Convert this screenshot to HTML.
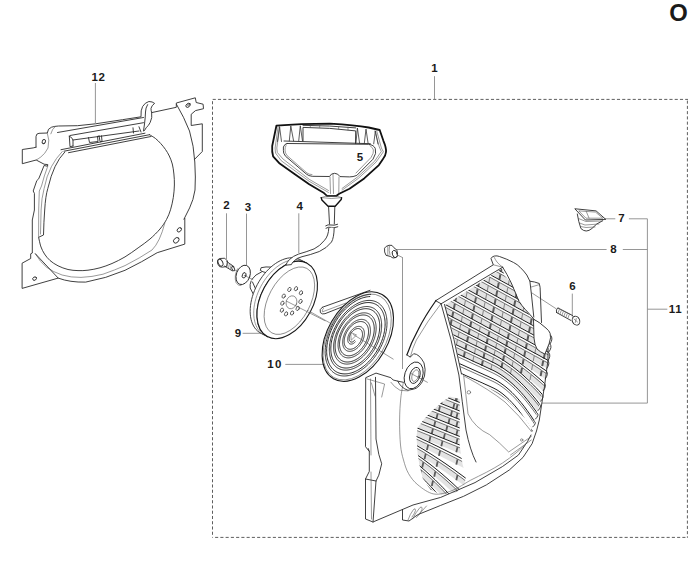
<!DOCTYPE html>
<html><head><meta charset="utf-8">
<style>
html,body{margin:0;padding:0;background:#fff;width:700px;height:577px;overflow:hidden}
svg{display:block}
.lb{font-family:"Liberation Sans",sans-serif;font-weight:bold;font-size:11.5px;fill:#1b1b1b;text-anchor:middle}
.ld{stroke:#8a8a8a;stroke-width:0.9;fill:none}
.p{stroke:#2a2a2a;stroke-width:0.9;fill:none;stroke-linejoin:round;stroke-linecap:round}
.pw{stroke:#2a2a2a;stroke-width:0.9;fill:#fff;stroke-linejoin:round;stroke-linecap:round}
.t{stroke:#555;stroke-width:0.6;fill:none;stroke-linejoin:round;stroke-linecap:round}
</style></head>
<body>
<svg width="700" height="577" viewBox="0 0 700 577">
<!-- title letter -->
<text x="678.6" y="20.6" style="font-family:'Liberation Sans',sans-serif;font-weight:bold;font-size:23.8px;fill:#1a1a1a;text-anchor:middle">O</text>

<!-- dashed frame -->
<g fill="none" stroke="#5e5e5e" stroke-width="1" stroke-dasharray="3.1 2.15">
<path d="M212.7,99.4 H688"/>
<path d="M212.5,101.2 V537.6"/>
<path d="M687.4,100.6 V537.6"/>
<path d="M215.1,537.4 H688"/>
</g>

<!-- leader lines -->
<g class="ld">
<path d="M434.5 76.2V99.4"/>
<path d="M95.4 83V123"/>
<path d="M226.5 213.3V259"/>
<path d="M246.5 213.6V265.4"/>
<path d="M298.8 213.3V253"/>
<path d="M604.4 218.8H615.3M628.9 218.8H647.4V403.1H541.9"/>
<path d="M396.5 249.5H606.6M622.8 249.5H647.4"/>
<path d="M647.4 309.2H667.3"/>
<path d="M572.3 293.6V316.7"/>
<path d="M242.6 333.3H261"/>
<path d="M285.3 364.4H322.9"/>
<path d="M402.5 257.5V369"/>
</g>

<!-- labels -->
<g class="lb">
<text x="98.4" y="81" letter-spacing="0.5">12</text>
<text x="434.4" y="72">1</text>
<text x="360" y="161">5</text>
<text x="226.5" y="208.9">2</text>
<text x="247.9" y="210.7">3</text>
<text x="299.8" y="210.1">4</text>
<text x="621.4" y="222.1">7</text>
<text x="613.5" y="253.1">8</text>
<text x="572.4" y="290.3">6</text>
<text x="675.6" y="313.1" letter-spacing="0.8">11</text>
<text x="237.9" y="337.3">9</text>
<text x="275" y="367.5" letter-spacing="1.4">10</text>
</g>

<!-- PARTS -->

<!-- PART 12 -->
<g class="p">
<path d="M36,147.2 L36,136.5 Q36.3,133.3 39,133.3 L47.3,133 Q47.6,128.5 51.5,127.2 Q54.5,126.2 58.5,126 L77.5,125.7 L95.5,123.8 L122.5,119.7 L141,116.8 Q140.6,110 142.6,106.5 Q145,102.5 148.9,101.5 Q152.5,101.5 154.6,103.4 Q151.6,105.5 151,108.4 Q151,111 151.7,112.6 L176.3,107.3 L176.3,103 L195.3,97.8 L196.2,102.5 L203.1,104.2 L203.5,108.7 L195.5,110.6 L191.2,114.3 L191.2,125.5 L202.3,123.8 L202.3,151.5 L194.6,159.3"/>
<path d="M176.6,104.5 Q184,117 189.5,131 Q194,146 194.8,162 Q195.8,178 195,190 Q193.5,200 189.6,207.9 L183.9,219.3 L184.8,218.4 L184.8,244.1 L157.2,252.7 Q142,262 125,270.3 Q106,278.5 85.7,282.1 Q70,282.5 58.2,278.1 L22.1,288.4 L22.1,263.2 L30.7,258.5 L30.7,253.8 L32.3,253 L32.3,220 L34.4,210 L34.4,193.4 L33.2,191 L36.8,180.6 L38.7,178.8 L44.1,165.5 L47.4,166.2 L47.8,164.6 L44.1,164.2 L36.2,160 L22.3,163.7 L22.3,149.5 L33.2,147.9 L36,147.2"/>
<!-- inner opening -->
<path d="M149.50,134.70 C150.50,135.33 153.63,137.03 155.50,138.50 C157.37,139.97 159.03,141.67 160.70,143.50 C162.37,145.33 164.07,147.42 165.50,149.50 C166.93,151.58 168.17,153.58 169.30,156.00 C170.43,158.42 171.53,161.00 172.30,164.00 C173.07,167.00 173.55,170.50 173.90,174.00 C174.25,177.50 174.50,181.08 174.40,185.00 C174.30,188.92 173.95,193.37 173.30,197.50 C172.65,201.63 171.63,206.13 170.50,209.80 C169.37,213.47 168.25,216.30 166.50,219.50 C164.75,222.70 162.75,225.75 160.00,229.00 C157.25,232.25 153.65,235.85 150.00,239.00 C146.35,242.15 142.27,244.92 138.10,247.90 C133.93,250.88 129.35,254.30 125.00,256.90 C120.65,259.50 116.17,261.68 112.00,263.50 C107.83,265.32 104.00,266.68 100.00,267.80 C96.00,268.92 91.67,269.73 88.00,270.20 C84.33,270.67 81.33,270.72 78.00,270.60 C74.67,270.48 71.33,270.30 68.00,269.50 C64.67,268.70 61.00,267.30 58.00,265.80 C55.00,264.30 52.25,262.47 50.00,260.50 C47.75,258.53 46.00,256.25 44.50,254.00 C43.00,251.75 41.88,249.33 41.00,247.00 C40.12,244.67 39.50,241.17 39.20,240.00 L38.6,237.3 L43.5,235 Q43.8,222 44.7,210 Q45.5,196 47.8,188.5 Q51,175 55,166.7 Q59,158 64.7,152.1"/>
<path d="M35.4,253.8 Q40,262 46.4,267.1 Q53,272 62.1,275 Q71,277.6 81,277.4 Q92,277 103,274.2 Q115,270 125,265.6 Q140,258 152,250 Q160,242 164.8,223.1" class="t"/>
<path d="M35.4,253.8 L58.2,278.1"/>
<path d="M47.8,166.1 Q44,176 41.5,186 L39.3,191 L38.7,210 L38.6,237.3" class="t"/>
<path d="M62.3,151.5 Q56,158 51.4,166.7 Q46.5,176 44.1,188.5 Q41.5,198 41.1,210 L40.5,234" class="t"/>
<!-- rail -->
<path d="M57.5,132.5 L143.5,117.5"/>
<path d="M70,135.5 L143.5,122.7"/>
<path d="M69.3,136.2 L70,146.7 L73,146 M73,140 L139,131 M69.3,136.2 Q72,137 73,140 L73,146" />
<path d="M61,149.7 L145,133.2 M64,151.2 L149.5,134.7 M68.5,152.7 L151,136.5"/>
<path d="M88.5,137.6 L89.5,142.5 L98,141.5 L97.5,136.3 M99,135.5 L100,141.3 Q101,143 102,141 L101.5,135.8"/>
<path d="M133,127.8 L133.5,133 M139,126.8 L141,132"/>
<path d="M147.6,104.6 Q145.5,108 145.5,112 Q145.3,118 144.5,124 L143.5,131 M151.7,112.6 Q152.5,118 150.2,122.4 Q148.5,126 146.4,127.4 L144.5,130.5"/>
<path d="M55.3,126.5 Q52,129 50.8,133.8" class="t"/>
<path d="M47.3,133 Q50,140 48,148 Q45,154 40.8,157 Q38,159 36.2,160" class="t"/>
<!-- holes -->
<ellipse cx="43.8" cy="141.6" rx="1.6" ry="2.1" transform="rotate(25 43.8 141.6)"/>
<ellipse cx="188.1" cy="105.3" rx="2.5" ry="1.7" transform="rotate(-40 188.1 105.3)"/><ellipse cx="188.4" cy="105.1" rx="1.2" ry="0.8" transform="rotate(-40 188.4 105.1)" class="t"/>
<ellipse cx="34.6" cy="278.6" rx="2" ry="1.6" transform="rotate(-35 34.6 278.6)"/>
<ellipse cx="176.3" cy="240.3" rx="3.2" ry="2.3" transform="rotate(-45 176.3 240.3)"/>
<ellipse cx="179.3" cy="229.8" rx="2.5" ry="1.8" transform="rotate(-45 179.3 229.8)"/>
</g>


<!-- PART 5 handle -->
<g class="p">
<path d="M276.4,125.7 Q300,123.6 330,123.6 Q355,125 368.6,127.5 L379.7,130 L383.4,140.8 Q386.5,148 386,152 Q385.6,156 383,159 L378.9,165.1 L364.2,178.4 L349.5,188.7 L339.2,193.8 L336.5,195.8 L327,195.8 L324,193.1 L309.2,184.3 L294.5,174 L279.7,163.6 L273.1,156.3 Q271.8,152 272.2,146 Z" style="stroke-width:1.8;stroke:#111"/>
<path d="M278.1,126.3 L275.1,148 L275.5,153 L281.2,160.7 L309.2,181.3 L328.4,192.4 M376.7,130.9 L381.4,148 L383.4,151.8 L376,162.1 L358.3,178.4 L342.1,190.1" class="t"/>
<path d="M279.7,127.5 L276.8,148 L277.3,152.5 L283,159 L309.5,179.5 L328.5,190.5 M374.8,131 L379.3,147 L381.3,151.5 L374.5,161.3 L357.5,177 L342,188.5" class="t"/>
<path d="M287.1,143.5 L368.6,144.3 Q374,145 375.3,148.6 Q377,153 373,159.2 L356.8,175.4 Q353,177 349.5,176.9 L340,176.6 Q338,173.3 334.5,173.3 Q331,173.3 329.5,176.5 L312.2,176.3 Q308.5,176 306.3,174 L285.6,156.3 Q283,153 283.4,150.4 L283.4,147 Q284.5,143.7 287.1,143.5 Z"/>
<path d="M286,145.5 Q285,147 285,150 Q285,153 287,155.5 L307,173 Q309,174.5 312,174.6 M370,145.8 Q373,147.5 373.4,150 Q374,153 371,157.5 L356,173" class="t"/>
<path d="M303,141 L303,127.4 Q330,127.6 355.7,130.9 L355.5,143.5 M303,125.3 Q330,125.5 355.7,127.9 M284,141 L370.3,143.7"/>
<path d="M310.3,125.5 L310.3,127.5 M319.7,125.5 L319.7,127.5 M338.6,126.5 L338.6,129 M348,127.2 L348,130" class="t"/>
<path d="M277.5,141.5 L279.5,126.5 L281.5,141.5 M289.3,141 L290.8,126 L293.6,141 M298.7,141 L300.3,125.8 L302.5,141 M355.9,143.3 L357.4,128 L359.6,143.3 M364.3,143.5 L366,129.1 L368.1,143.5 M373.7,143.8 L375.4,130.9 L378,144" style="stroke:#333;stroke-width:0.8"/>
<path d="M330,177 L330.5,193.5 M339,177 L338.8,193 M333,174 L333.5,193.5" class="t"/>
</g>
<!-- cone and rope -->
<g class="p">
<path d="M321.2,197.6 Q331.4,193.5 341.6,197.6 Q331.4,199.5 321.2,197.6 Z" class="t"/>
<path d="M321.2,197.6 L321.9,200 L328.1,206.2 L335.2,206.2 L341.2,199.5 L341.6,197.6" style="stroke-width:1.4;stroke:#111"/>
<path d="M328.6,207.1 L329.5,224 M334.8,207.1 L334.3,224"/>
<path d="M325.7,225.8 Q328,224.2 331,225 Q334,225.8 337.6,224.3 M326,228.2 Q328.5,226.6 331.5,227.4 Q334.5,228.2 337.8,226.8"/>

</g>
<!-- bolt 2 -->
<g class="p">
<path d="M219.5,258.6 Q216.5,259.5 217.8,264 Q219,267.6 222.3,267.2 L226.6,266.5 L227.5,261 L225,258.5 Z"/>
<ellipse cx="220.5" cy="262.7" rx="2.2" ry="3.6" transform="rotate(-25 220.5 262.7)"/>
<path d="M226.7,261.5 L234,266.7 M224.5,266.1 L232.3,270.8"/>
<ellipse cx="233.2" cy="268.7" rx="1.2" ry="2.3" transform="rotate(-25 233.2 268.7)"/>
<path d="M227.8,262.5 L227,266.5 M229.5,263.6 L228.6,267.6 M231.2,264.8 L230.3,268.8" class="t"/>
</g>
<!-- washer 3 -->
<g class="p">
<ellipse cx="243.2" cy="274.9" rx="6.8" ry="10" transform="rotate(20 243.2 274.9)" fill="#fff"/>
<path d="M237.5,268.8 Q233.8,276 236,282.5 Q238,286.2 241,285.6" class="t"/>
<ellipse cx="244.1" cy="275.3" rx="1.8" ry="2.8" transform="rotate(20 244.1 275.3)"/>
<path d="M234.3,269.6 L236.6,270.9 M244.1,275.3 L252.8,279.5" class="t"/>
</g>




<!-- pulley 9 -->
<g class="p">
<path d="M261.5,267.6 Q266,266.5 271,267.1 L272,270 L266.7,272.8 Q262.5,272 260.6,270.6 Z" fill="#fff"/>
<path d="M251.9,279.3 Q255,274.5 261.5,271.9 M251.1,281 Q249.6,284.5 250.2,288 L253.7,294.9 L256.3,290.5 L252.5,282"/>
<path d="M260.93,333.30 L259.18,332.26 L257.55,330.99 L256.07,329.52 L254.73,327.84 L253.56,325.96 L252.55,323.91 L251.71,321.68 L251.05,319.30 L250.57,316.78 L250.27,314.13 L250.16,311.38 L250.24,308.53 L250.50,305.61 L250.95,302.63 L251.58,299.61 L252.39,296.57 L253.37,293.54 L254.52,290.52 L255.82,287.53 L257.28,284.60 L258.88,281.75 L260.62,278.99 L262.47,276.33 L264.44,273.80 L266.51,271.40 L268.66,269.16 L270.88,267.09 L273.17,265.20 L275.50,263.51 L277.85,262.01 L280.23,260.73 L282.60,259.67 L284.97,258.83 L287.30,258.23 L289.59,257.86 L291.83,257.73 L293.99,257.84 L296.08,258.19 L298.06,258.77 L299.94,259.59 L306.70,263.04 L304.83,262.23 L302.84,261.65 L300.76,261.30 L298.59,261.19 L296.36,261.32 L294.07,261.69 L291.73,262.29 L289.37,263.13 L286.99,264.19 L284.62,265.47 L282.26,266.96 L279.93,268.66 L277.65,270.55 L275.42,272.62 L273.27,274.86 L271.21,277.25 L269.24,279.79 L267.38,282.44 L265.65,285.21 L264.05,288.06 L262.59,290.99 L261.28,293.97 L260.13,296.99 L259.15,300.03 L258.35,303.07 L257.72,306.09 L257.27,309.06 L257.00,311.99 L256.93,314.83 L257.04,317.59 L257.33,320.24 L257.81,322.76 L258.47,325.14 L259.31,327.36 L260.32,329.42 L261.50,331.29 L262.83,332.97 L264.32,334.45 L265.94,335.71 L267.70,336.76 Z" fill="#fff"/>
<path d="M264.49,335.12 L262.74,334.08 L261.11,332.81 L259.63,331.34 L258.29,329.66 L257.12,327.78 L256.11,325.73 L255.27,323.50 L254.61,321.12 L254.13,318.60 L253.83,315.95 L253.72,313.20 L253.80,310.35 L254.06,307.43 L254.51,304.45 L255.14,301.43 L255.95,298.39 L256.93,295.36 L258.08,292.34 L259.38,289.35 L260.84,286.42 L262.44,283.57 L264.18,280.81 L266.03,278.15 L268.00,275.62 L270.07,273.22 L272.22,270.98 L274.44,268.91 L276.73,267.02 L279.06,265.33 L281.41,263.83 L283.79,262.55 L286.16,261.49 L288.53,260.65 L290.86,260.05 L293.15,259.68 L295.39,259.55 L297.55,259.66 L299.64,260.01 L301.62,260.59 L303.50,261.41" class="t"/>
<ellipse cx="287.2" cy="299.9" rx="26.0" ry="41.7" transform="rotate(28.4 287.2 299.9)" fill="#fff" style="stroke-width:1.1;stroke:#1a1a1a"/>
<ellipse cx="289.4" cy="300.7" rx="20.8" ry="36.7" transform="rotate(28.4 289.4 300.7)" class="t"/>
<ellipse cx="291.5" cy="302.3" rx="5.3" ry="6.6" transform="rotate(20 291.5 302.3)" class="t"/>
<path d="M286.2,301 L325,320.8" class="t"/>
</g>
<g class="t" style="stroke:#333;stroke-width:0.7">
<ellipse cx="289.4" cy="289.5" rx="1.5" ry="2.2" transform="rotate(25 289.4 289.5)"/><ellipse cx="296" cy="288.7" rx="1.5" ry="2.2" transform="rotate(25 296 288.7)"/><ellipse cx="301" cy="292.8" rx="1.5" ry="2.2" transform="rotate(25 301 292.8)"/><ellipse cx="300.5" cy="301.4" rx="1.5" ry="2.2" transform="rotate(25 300.5 301.4)"/><ellipse cx="297.7" cy="308.4" rx="1.5" ry="2.2" transform="rotate(25 297.7 308.4)"/><ellipse cx="292.1" cy="313" rx="1.5" ry="2.2" transform="rotate(25 292.1 313)"/><ellipse cx="286.1" cy="313.9" rx="1.5" ry="2.2" transform="rotate(25 286.1 313.9)"/><ellipse cx="281.9" cy="310.2" rx="1.5" ry="2.2" transform="rotate(25 281.9 310.2)"/><ellipse cx="282.4" cy="303.2" rx="1.5" ry="2.2" transform="rotate(25 282.4 303.2)"/><ellipse cx="283.7" cy="296.1" rx="1.5" ry="2.2" transform="rotate(25 283.7 296.1)"/>
</g>

<!-- rope over pulley -->
<path class="p" style="fill:#fff" d="M328.8,228 Q328.5,236 324.5,240.3 Q320,246 314.1,248.9 Q306,252 298.5,254.1 Q293,256 289.5,259.5 Q287,262 285.8,265.2 L291.4,264.6 Q292,262.5 294.5,260.5 Q297,258 302,256.7 Q310,255 319.3,251.5 Q327,248 331.5,242 Q334,238 334.2,227.5"/>
<!-- PART 10 spring -->
<g class="p">
<path d="M322.3,307.3 Q318.8,309.5 320.4,312.6 Q322,314.6 325,313.7 L350,303.8 M322.3,307.3 L370,290.3" fill="#fff"/>
<path d="M323.5,308.4 Q321.5,310 322.5,311.8 L346,303" class="t"/>
<ellipse cx="357.8" cy="336.6" rx="30.2" ry="48.6" transform="rotate(30 357.8 336.6)" fill="#fff" style="stroke-width:1.1;stroke:#1a1a1a"/>
<ellipse cx="357.2" cy="337.0" rx="28.7" ry="46.8" transform="rotate(30 357.2 337.0)" class="t"/>
<path d="M354.61,340.21 L354.52,340.36 L354.42,340.49 L354.31,340.63 L354.20,340.75 L354.09,340.88 L353.97,341.00 L353.84,341.11 L353.72,341.22 L353.59,341.32 L353.45,341.42 L353.32,341.51 L353.18,341.60 L353.04,341.68 L352.89,341.75 L352.75,341.82 L352.61,341.88 L352.46,341.93 L352.31,341.97 L352.17,342.01 L352.02,342.04 L351.87,342.06 L351.73,342.07 L351.58,342.07 L351.44,342.06 L351.30,342.05 L351.16,342.02 L351.02,341.99 L350.89,341.95 L350.75,341.90 L350.62,341.84 L350.50,341.77 L350.38,341.69 L350.26,341.60 L350.15,341.50 L350.04,341.40 L349.94,341.28 L349.84,341.16 L349.75,341.02 L349.66,340.88 L349.58,340.73 L349.51,340.57 L349.44,340.40 L349.38,340.23 L349.33,340.04 L349.28,339.85 L349.24,339.65 L349.21,339.44 L349.19,339.23 L349.17,339.01 L349.16,338.78 L349.17,338.54 L349.17,338.31 L349.19,338.06 L349.22,337.81 L349.25,337.56 L349.30,337.30 L349.35,337.03 L349.41,336.77 L349.48,336.50 L349.56,336.23 L349.65,335.95 L349.74,335.68 L349.85,335.40 L349.96,335.12 L350.08,334.84 L350.21,334.56 L350.35,334.29 L350.50,334.01 L350.65,333.74 L350.82,333.46 L350.99,333.19 L351.16,332.92 L351.35,332.66 L351.54,332.40 L351.74,332.15 L351.95,331.90 L352.16,331.65 L352.38,331.41 L352.60,331.18 L352.83,330.95 L353.06,330.74 L353.30,330.52 L353.55,330.32 L353.79,330.13 L354.05,329.95 L354.30,329.77 L354.56,329.61 L354.82,329.45 L355.08,329.31 L355.35,329.17 L355.61,329.05 L355.88,328.94 L356.14,328.85 L356.41,328.76 L356.68,328.69 L356.94,328.63 L357.21,328.58 L357.47,328.55 L357.73,328.53 L357.99,328.52 L358.24,328.53 L358.50,328.55 L358.74,328.58 L358.99,328.63 L359.23,328.69 L359.46,328.77 L359.69,328.86 L359.91,328.96 L360.12,329.08 L360.33,329.22 L360.53,329.36 L360.72,329.53 L360.91,329.70 L361.09,329.89 L361.25,330.09 L361.41,330.30 L361.56,330.53 L361.70,330.77 L361.83,331.02 L361.95,331.29 L362.05,331.57 L362.15,331.85 L362.24,332.15 L362.31,332.46 L362.37,332.78 L362.42,333.11 L362.46,333.45 L362.49,333.80 L362.50,334.15 L362.50,334.52 L362.49,334.89 L362.47,335.27 L362.43,335.65 L362.38,336.04 L362.32,336.44 L362.25,336.84 L362.16,337.24 L362.06,337.65 L361.94,338.06 L361.82,338.47 L361.68,338.88 L361.53,339.29 L361.37,339.71 L361.19,340.12 L361.01,340.53 L360.81,340.94 L360.60,341.35 L360.38,341.75 L360.15,342.15 L359.91,342.55 L359.65,342.94 L359.39,343.32 L359.12,343.70 L358.84,344.07 L358.55,344.43 L358.25,344.78 L357.94,345.13 L357.63,345.46 L357.31,345.79 L356.98,346.10 L356.65,346.40 L356.31,346.69 L355.97,346.96 L355.62,347.23 L355.26,347.48 L354.91,347.71 L354.55,347.93 L354.18,348.13 L353.82,348.32 L353.46,348.50 L353.09,348.65 L352.72,348.79 L352.36,348.91 L351.99,349.02 L351.63,349.10 L351.27,349.17 L350.91,349.22 L350.55,349.25 L350.20,349.27 L349.86,349.26 L349.52,349.23 L349.18,349.19 L348.85,349.13 L348.53,349.05 L348.22,348.94 L347.91,348.82 L347.61,348.68 L347.32,348.52 L347.04,348.35 L346.77,348.15 L346.51,347.93 L346.27,347.70 L346.03,347.45 L345.81,347.18 L345.60,346.89 L345.40,346.59 L345.21,346.27 L345.04,345.93 L344.88,345.58 L344.74,345.21 L344.61,344.83 L344.50,344.43 L344.40,344.02 L344.32,343.59 L344.25,343.16 L344.20,342.70 L344.17,342.24 L344.15,341.77 L344.15,341.29 L344.17,340.79 L344.20,340.29 L344.25,339.78 L344.31,339.27 L344.40,338.74 L344.49,338.21 L344.61,337.68 L344.74,337.14 L344.89,336.60 L345.06,336.05 L345.24,335.51 L345.44,334.96 L345.65,334.41 L345.88,333.87 L346.13,333.32 L346.39,332.78 L346.66,332.24 L346.95,331.71 L347.25,331.18 L347.57,330.66 L347.90,330.14 L348.24,329.63 L348.60,329.14 L348.97,328.65 L349.34,328.17 L349.73,327.70 L350.13,327.24 L350.54,326.79 L350.96,326.36 L351.39,325.95 L351.82,325.55 L352.27,325.16 L352.72,324.79 L353.17,324.44 L353.63,324.10 L354.10,323.78 L354.57,323.48 L355.04,323.21 L355.52,322.95 L355.99,322.71 L356.47,322.49 L356.95,322.29 L357.43,322.12 L357.90,321.97 L358.38,321.84 L358.85,321.73 L359.32,321.65 L359.79,321.59 L360.25,321.55 L360.70,321.54 L361.15,321.55 L361.59,321.58 L362.02,321.64 L362.45,321.72 L362.86,321.83 L363.27,321.96 L363.66,322.12 L364.05,322.30 L364.42,322.50 L364.78,322.73 L365.13,322.98 L365.46,323.25 L365.78,323.55 L366.08,323.87 L366.37,324.21 L366.64,324.57 L366.90,324.95 L367.14,325.35 L367.36,325.78 L367.56,326.22 L367.75,326.68 L367.91,327.16 L368.06,327.66 L368.19,328.18 L368.30,328.71 L368.39,329.26 L368.46,329.82 L368.51,330.39 L368.54,330.98 L368.54,331.58 L368.53,332.20 L368.50,332.82 L368.44,333.45 L368.37,334.09 L368.27,334.74 L368.16,335.40 L368.02,336.06 L367.86,336.72 L367.69,337.39 L367.49,338.06 L367.27,338.74 L367.04,339.41 L366.78,340.08 L366.50,340.76 L366.21,341.43 L365.90,342.09 L365.57,342.75 L365.22,343.41 L364.85,344.06 L364.47,344.70 L364.07,345.33 L363.66,345.95 L363.23,346.56 L362.79,347.16 L362.34,347.75 L361.87,348.32 L361.39,348.88 L360.89,349.42 L360.39,349.94 L359.88,350.45 L359.35,350.94 L358.82,351.41 L358.28,351.86 L357.73,352.29 L357.18,352.69 L356.62,353.08 L356.06,353.44 L355.49,353.78 L354.93,354.09 L354.35,354.38 L353.78,354.64 L353.21,354.88 L352.64,355.09 L352.07,355.27 L351.50,355.43 L350.94,355.56 L350.38,355.66 L349.82,355.73 L349.28,355.78 L348.74,355.79 L348.20,355.78 L347.68,355.73 L347.16,355.66 L346.66,355.56 L346.17,355.43 L345.68,355.27 L345.22,355.08 L344.76,354.87 L344.32,354.62 L343.90,354.35 L343.49,354.05 L343.10,353.72 L342.72,353.36 L342.37,352.98 L342.03,352.57 L341.71,352.14 L341.41,351.68 L341.13,351.20 L340.87,350.69 L340.64,350.16 L340.42,349.60 L340.23,349.03 L340.06,348.43 L339.91,347.82 L339.79,347.18 L339.69,346.53 L339.61,345.86 L339.56,345.17 L339.53,344.47 L339.53,343.75 L339.55,343.02 L339.60,342.28 L339.67,341.53 L339.76,340.76 L339.88,339.99 L340.03,339.21 L340.20,338.43 L340.39,337.63 L340.61,336.84 L340.85,336.04 L341.11,335.24 L341.40,334.44 L341.71,333.64 L342.04,332.84 L342.40,332.05 L342.77,331.26 L343.17,330.47 L343.59,329.70 L344.03,328.93 L344.48,328.17 L344.96,327.42 L345.45,326.68 L345.96,325.96 L346.49,325.25 L347.04,324.55 L347.60,323.88 L348.17,323.22 L348.76,322.57 L349.36,321.95 L349.97,321.35 L350.59,320.77 L351.22,320.21 L351.87,319.68 L352.52,319.17 L353.17,318.69 L353.84,318.23 L354.51,317.81 L355.18,317.40 L355.85,317.03 L356.53,316.69 L357.21,316.37 L357.89,316.09 L358.57,315.84 L359.24,315.62 L359.92,315.43 L360.58,315.28 L361.25,315.15 L361.91,315.06 L362.56,315.01 L363.20,314.98 L363.83,314.99 L364.45,315.04 L365.06,315.12 L365.66,315.23 L366.25,315.37 L366.82,315.55 L367.37,315.77 L367.91,316.01 L368.44,316.29 L368.94,316.60 L369.43,316.95 L369.90,317.33 L370.34,317.73 L370.77,318.17 L371.17,318.64 L371.56,319.14 L371.91,319.67 L372.25,320.23 L372.56,320.81 L372.85,321.42 L373.11,322.06 L373.34,322.72 L373.55,323.41 L373.74,324.12 L373.89,324.85 L374.02,325.60 L374.12,326.38 L374.19,327.17 L374.24,327.98 L374.25,328.80 L374.24,329.64 L374.20,330.50 L374.13,331.37 L374.03,332.25 L373.91,333.14 L373.75,334.03 L373.57,334.94 L373.36,335.85 L373.12,336.77 L372.86,337.69 L372.56,338.61 L372.25,339.53 L371.90,340.45 L371.53,341.37 L371.13,342.29 L370.71,343.20 L370.27,344.10 L369.80,345.00 L369.30,345.88 L368.79,346.76 L368.25,347.62 L367.70,348.47 L367.12,349.30 L366.52,350.12 L365.91,350.92 L365.28,351.70 L364.63,352.46 L363.96,353.20 L363.29,353.92 L362.59,354.61 L361.89,355.28 L361.17,355.92 L360.45,356.54 L359.71,357.12 L358.97,357.68 L358.22,358.21 L357.46,358.70 L356.70,359.17 L355.93,359.60 L355.16,360.00 L354.39,360.36 L353.63,360.69 L352.86,360.99 L352.09,361.24 L351.33,361.46 L350.57,361.65 L349.82,361.80 L349.08,361.90 L348.34,361.98 L347.61,362.01 L346.90,362.00 L346.19,361.96 L345.50,361.87 L344.82,361.75 L344.16,361.59 L343.51,361.39 L342.88,361.16 L342.27,360.88 L341.68,360.57 L341.11,360.22 L340.56,359.83 L340.03,359.41 L339.52,358.95 L339.04,358.46 L338.58,357.93 L338.15,357.37 L337.74,356.77 L337.36,356.14 L337.01,355.48 L336.69,354.79 L336.39,354.07 L336.13,353.33 L335.89,352.55 L335.69,351.75 L335.51,350.92 L335.37,350.07 L335.26,349.20 L335.17,348.30 L335.13,347.39 L335.11,346.45 L335.12,345.50 L335.17,344.54 L335.25,343.55 L335.36,342.56 L335.50,341.55 L335.68,340.53 L335.89,339.51 L336.13,338.48 L336.40,337.44 L336.70,336.40 L337.03,335.35 L337.39,334.31 L337.78,333.27 L338.20,332.23 L338.65,331.19 L339.13,330.16 L339.64,329.13 L340.17,328.12 L340.73,327.11 L341.31,326.12 L341.92,325.14 L342.55,324.18 L343.20,323.24 L343.88,322.31 L344.58,321.40 L345.29,320.51 L346.03,319.65 L346.78,318.81 L347.55,317.99 L348.33,317.20 L349.13,316.44 L349.94,315.71 L350.77,315.01 L351.60,314.34 L352.44,313.70 L353.29,313.10 L354.15,312.53 L355.02,312.00 L355.88,311.51 L356.75,311.05 L357.63,310.63 L358.50,310.25 L359.37,309.91 L360.24,309.61 L361.10,309.35 L361.96,309.13 L362.82,308.96 L363.66,308.82 L364.50,308.73 L365.33,308.68 L366.14,308.68 L366.94,308.72 L367.73,308.80 L368.50,308.92 L369.26,309.09 L369.99,309.30 L370.71,309.56 L371.41,309.85 L372.09,310.19 L372.74,310.57 L373.37,311.00 L373.98,311.46 L374.56,311.96 L375.11,312.50 L375.64,313.09 L376.13,313.70 L376.60,314.36 L377.04,315.05 L377.45,315.78 L377.83,316.54 L378.17,317.34 L378.49,318.17 L378.77,319.02 L379.01,319.91 L379.22,320.83 L379.40,321.77 L379.54,322.74 L379.65,323.73 L379.72,324.75 L379.76,325.78 L379.76,326.84 L379.72,327.91 L379.65,329.01 L379.54,330.11 L379.40,331.23 L379.22,332.36 L379.00,333.50 L378.75,334.65 L378.47,335.80 L378.15,336.96 L377.79,338.12 L377.41,339.29 L376.98,340.45 L376.53,341.61 L376.05,342.76 L375.53,343.91 L374.98,345.05 L374.40,346.18 L373.80,347.30 L373.16,348.41 L372.50,349.50 L371.81,350.57 L371.10,351.63 L370.36,352.67 L369.60,353.68 L368.82,354.67 L368.01,355.64 L367.19,356.58 L366.35,357.49 L365.49,358.37 L364.61,359.22 L363.72,360.04 L362.82,360.83 L361.90,361.58 L360.98,362.29 L360.04,362.97 L359.10,363.61 L358.15,364.21 L357.19,364.77 L356.24,365.29 L355.28,365.76 L354.32,366.19 L353.36,366.58 L352.40,366.92 L351.45,367.22 L350.50,367.47 L349.56,367.68 L348.63,367.84 L347.71,367.95 L346.80,368.01 L345.90,368.03 L345.01,368.00 L344.15,367.92 L343.29,367.79 L342.46,367.62 L341.65,367.40 L340.85,367.13 L340.08,366.81 L339.34,366.44 L338.61,366.03 L337.92,365.58 L337.25,365.08 L336.61,364.53 L335.99,363.94 L335.41,363.31 L334.86,362.64 L334.34,361.92 L333.85,361.16 L333.40,360.37 L332.98,359.54 L332.60,358.67 L332.25,357.76 L331.94,356.82 L331.67,355.85 L331.43,354.84 L331.23,353.81 L331.07,352.75 L330.95,351.66 L330.87,350.54 L330.83,349.40 L330.82,348.24 L330.86,347.06 L330.94,345.86 L331.05,344.65 L331.21,343.42 L331.40,342.17 L331.63,340.92 L331.91,339.65 L332.22,338.38 L332.57,337.11 L332.95,335.83 L333.38,334.54 L333.84,333.26 L334.34,331.99 L334.87,330.71 L335.44,329.44 L336.04,328.18 L336.67,326.94 L337.34,325.70 L338.03,324.48 L338.76,323.27 L339.52,322.08 L340.30,320.91 L341.11,319.77 L341.95,318.64 L342.81,317.54 L343.70,316.47 L344.61,315.43 L345.53,314.42 L346.48,313.44 L347.44,312.49 L348.43,311.58 L349.42,310.71 L350.43,309.87 L351.45,309.07 L352.48,308.32 L353.52,307.60 L354.57,306.93 L355.63,306.30 L356.68,305.72 L357.74,305.19 L358.80,304.70 L359.86,304.26 L360.92,303.87 L361.98,303.52 L363.02,303.23 L364.06,302.99 L365.10,302.80 L366.12,302.66 L367.13,302.58 L368.12,302.54 L369.10,302.56 L370.07,302.63 L371.01,302.76 L371.94,302.93 L372.84,303.16 L373.73,303.44 L374.58,303.77 L375.42,304.15 L376.22,304.59 L377.00,305.07 L377.75,305.60 L378.47,306.19 L379.16,306.82 L379.81,307.49 L380.43,308.22 L381.02,308.99 L381.57,309.80 L382.08,310.66 L382.56,311.56 L382.99,312.50 L383.39,313.47 L383.75,314.49 L384.07,315.54 L384.35,316.63 L384.58,317.75 L384.78,318.90 L384.93,320.08 L385.04,321.29 L385.10,322.52 L385.13,323.78 L385.10,325.07 L385.04,326.37 L384.93,327.69 L384.79,329.03 L384.59,330.38 L384.36,331.75 L384.08,333.12 L383.76,334.51 L383.40,335.90 L382.99,337.29 L382.55,338.69 L382.07,340.08 L381.54,341.48 L380.98,342.87 L380.38,344.25 L379.74,345.63 L379.07,346.99 L378.36,348.34 L377.62,349.68 L376.84,351.00 L376.03,352.30 L375.19,353.58 L374.32,354.83 L373.43,356.06 L372.50,357.26 L371.55,358.44 L370.58,359.58 L369.58,360.69 L368.57,361.77 L367.53,362.81 L366.47,363.81 L365.40,364.77 L364.31,365.70 L363.21,366.57 L362.10,367.41 L360.98,368.20 L359.85,368.94 L358.71,369.64 L357.57,370.29 L356.42,370.88 L355.27,371.43 L354.13,371.92 L352.98,372.36 L351.84,372.75 L350.71,373.08 L349.58,373.36 L348.47,373.58 L347.36,373.74 L346.27,373.85 L345.19,373.90 L344.12,373.90 L343.08,373.84 L342.05,373.72 L341.05,373.54 L340.06,373.31 L339.11,373.02 L338.17,372.68 L337.27,372.28 L336.39,371.82 L335.54,371.31 L334.73,370.75 L333.95,370.13 L333.20,369.46 L332.48,368.74 L331.81,367.97 L331.17,367.14 L330.57,366.27 L330.00,365.36 L329.48,364.39 L329.00,363.39 L328.57,362.34 L328.17,361.25 L327.82,360.12 L327.51,358.95 L327.25,357.74 L327.04,356.51 L326.87,355.23 L326.74,353.93 L326.66,352.60 L326.63,351.24 L326.65,349.86 L326.71,348.45 L326.82,347.02 L326.97,345.58 L327.17,344.12 L327.42,342.64 L327.72,341.15 L328.06,339.65 L328.44,338.15 L328.87,336.64 L329.35,335.13 L329.87,333.61 L330.43,332.10 L331.03,330.59 L331.68,329.09 L332.36,327.60 L333.09,326.12 L333.85,324.65 L334.65,323.20 L335.48,321.77 L336.36,320.35 L337.26,318.96 L338.20,317.60 L339.17,316.26 L340.16,314.94 L341.19,313.66 L342.24,312.42 L343.32,311.20 L344.42,310.03 L345.54,308.89 L346.68,307.79 L347.84,306.74 L349.02,305.73 L350.21,304.76 L351.42,303.85 L352.64,302.98 L353.86,302.16 L355.10,301.39 L356.34,300.67 L357.58,300.01 L358.82,299.40 L360.07,298.85 L361.31,298.36 L362.55,297.92 L363.78,297.55 L365.01,297.23 L366.23,296.97 L367.43,296.77 L368.62,296.63 L369.80,296.56" style="stroke:#1a1a1a;stroke-width:0.95"/>
<path d="M355.20,341.88 L355.04,342.08 L354.87,342.26 L354.70,342.43 L354.53,342.60 L354.34,342.76 L354.16,342.91 L353.97,343.06 L353.77,343.19 L353.58,343.32 L353.38,343.44 L353.18,343.55 L352.98,343.65 L352.77,343.75 L352.57,343.83 L352.36,343.90 L352.15,343.96 L351.95,344.01 L351.74,344.05 L351.54,344.08 L351.33,344.10 L351.13,344.10 L350.93,344.10 L350.73,344.08 L350.54,344.05 L350.35,344.01 L350.16,343.95 L349.98,343.89 L349.80,343.81 L349.62,343.72 L349.46,343.62 L349.29,343.51 L349.14,343.38 L348.99,343.25 L348.84,343.10 L348.70,342.94 L348.58,342.76 L348.45,342.58 L348.34,342.38 L348.23,342.18 L348.14,341.96 L348.05,341.73 L347.97,341.50 L347.90,341.25 L347.84,340.99 L347.79,340.73 L347.75,340.45 L347.72,340.17 L347.70,339.88 L347.69,339.58 L347.69,339.27 L347.71,338.95 L347.73,338.63 L347.76,338.31 L347.81,337.98 L347.86,337.64 L347.93,337.30 L348.01,336.95 L348.10,336.60 L348.20,336.25 L348.31,335.90 L348.44,335.54 L348.57,335.18 L348.71,334.83 L348.87,334.47 L349.03,334.11 L349.21,333.76 L349.40,333.40 L349.59,333.05 L349.80,332.70 L350.01,332.36 L350.24,332.01 L350.47,331.68 L350.71,331.35 L350.96,331.02 L351.22,330.70 L351.49,330.39 L351.76,330.09 L352.04,329.80 L352.33,329.51 L352.62,329.23 L352.92,328.97 L353.22,328.71 L353.53,328.46 L353.85,328.23 L354.16,328.01 L354.48,327.80 L354.81,327.60 L355.13,327.42 L355.46,327.25 L355.79,327.09 L356.12,326.95 L356.45,326.83 L356.79,326.72 L357.12,326.62 L357.44,326.54 L357.77,326.48 L358.10,326.43 L358.42,326.40 L358.74,326.39 L359.05,326.39 L359.37,326.41 L359.67,326.44 L359.97,326.50 L360.27,326.57 L360.56,326.66 L360.84,326.76 L361.11,326.88 L361.38,327.02 L361.63,327.18 L361.88,327.35 L362.12,327.54 L362.35,327.75 L362.57,327.97 L362.78,328.21 L362.98,328.47 L363.16,328.74 L363.34,329.02 L363.50,329.32 L363.65,329.64 L363.78,329.97 L363.90,330.31 L364.01,330.67 L364.11,331.04 L364.19,331.42 L364.26,331.81 L364.31,332.21 L364.35,332.63 L364.37,333.05 L364.38,333.49 L364.38,333.93 L364.35,334.38 L364.32,334.84 L364.26,335.31 L364.20,335.78 L364.11,336.26 L364.02,336.74 L363.90,337.23 L363.78,337.72 L363.63,338.21 L363.47,338.70 L363.30,339.20 L363.11,339.69 L362.91,340.19 L362.70,340.68 L362.47,341.17 L362.23,341.66 L361.97,342.14 L361.70,342.62 L361.42,343.10 L361.13,343.56 L360.82,344.02 L360.50,344.48 L360.17,344.92 L359.84,345.36 L359.49,345.78 L359.13,346.20 L358.76,346.60 L358.39,346.99 L358.00,347.37 L357.61,347.73 L357.21,348.09 L356.81,348.42 L356.40,348.74 L355.99,349.05 L355.57,349.33 L355.14,349.60 L354.72,349.86 L354.29,350.09 L353.86,350.30 L353.43,350.50 L353.00,350.68 L352.57,350.83 L352.14,350.97 L351.71,351.09 L351.28,351.18 L350.86,351.25 L350.44,351.30 L350.02,351.33 L349.61,351.34 L349.21,351.33 L348.81,351.29 L348.42,351.23 L348.04,351.15 L347.67,351.05 L347.30,350.92 L346.94,350.77 L346.60,350.60 L346.27,350.41 L345.94,350.20 L345.63,349.96 L345.33,349.71 L345.05,349.43 L344.78,349.13 L344.52,348.81 L344.28,348.47 L344.05,348.11 L343.84,347.73 L343.65,347.34 L343.47,346.92 L343.31,346.49 L343.17,346.04 L343.04,345.58 L342.93,345.09 L342.84,344.60 L342.77,344.09 L342.71,343.56 L342.68,343.02 L342.66,342.47 L342.67,341.91 L342.69,341.34 L342.73,340.76 L342.79,340.17 L342.87,339.57 L342.97,338.97 L343.09,338.35 L343.23,337.74 L343.39,337.12 L343.56,336.49 L343.76,335.87 L343.97,335.24 L344.20,334.61 L344.45,333.98 L344.72,333.35 L345.00,332.73 L345.31,332.11 L345.63,331.49 L345.96,330.88 L346.31,330.27 L346.68,329.68 L347.06,329.09 L347.46,328.51 L347.87,327.94 L348.29,327.38 L348.72,326.83 L349.17,326.30 L349.63,325.78 L350.10,325.28 L350.58,324.79 L351.07,324.32 L351.57,323.86 L352.08,323.42 L352.59,323.01 L353.11,322.61 L353.64,322.23 L354.17,321.87 L354.70,321.54 L355.24,321.22 L355.78,320.93 L356.33,320.67 L356.87,320.43 L357.41,320.21 L357.96,320.01 L358.50,319.85 L359.04,319.70 L359.57,319.59 L360.10,319.50 L360.63,319.44 L361.15,319.40 L361.67,319.39 L362.17,319.41 L362.67,319.45 L363.16,319.53 L363.64,319.63 L364.11,319.75 L364.56,319.91 L365.01,320.09 L365.44,320.30 L365.86,320.53 L366.26,320.80 L366.65,321.08 L367.02,321.40 L367.38,321.74 L367.72,322.10 L368.04,322.49 L368.34,322.91 L368.63,323.34 L368.89,323.80 L369.14,324.29 L369.36,324.79 L369.57,325.32 L369.75,325.86 L369.92,326.43 L370.06,327.01 L370.17,327.61 L370.27,328.23 L370.34,328.87 L370.39,329.52 L370.42,330.18 L370.43,330.86 L370.41,331.55 L370.37,332.26 L370.30,332.97 L370.21,333.69 L370.10,334.42 L369.97,335.16 L369.81,335.90 L369.63,336.65 L369.43,337.40 L369.20,338.16 L368.95,338.91 L368.68,339.67 L368.39,340.42 L368.08,341.18 L367.74,341.93 L367.39,342.67 L367.02,343.41 L366.62,344.15 L366.21,344.87 L365.78,345.59 L365.33,346.29 L364.87,346.99 L364.38,347.67 L363.89,348.33 L363.37,348.99 L362.85,349.63 L362.31,350.25 L361.75,350.85 L361.19,351.43 L360.61,352.00 L360.03,352.54 L359.43,353.06 L358.83,353.56 L358.22,354.03 L357.60,354.48 L356.97,354.91 L356.35,355.31 L355.71,355.68 L355.08,356.03 L354.44,356.34 L353.80,356.63 L353.17,356.89 L352.53,357.12 L351.89,357.32 L351.26,357.49 L350.64,357.63 L350.01,357.74 L349.40,357.81 L348.79,357.86 L348.19,357.87 L347.60,357.85 L347.01,357.80 L346.44,357.71 L345.88,357.60 L345.34,357.45 L344.81,357.27 L344.29,357.05 L343.79,356.81 L343.30,356.53 L342.83,356.23 L342.38,355.89 L341.95,355.52 L341.53,355.12 L341.14,354.69 L340.77,354.24 L340.42,353.75 L340.09,353.24 L339.78,352.70 L339.50,352.13 L339.24,351.54 L339.00,350.93 L338.79,350.29 L338.61,349.63 L338.45,348.94 L338.31,348.24 L338.21,347.51 L338.13,346.77 L338.07,346.01 L338.04,345.23 L338.04,344.43 L338.07,343.63 L338.12,342.80 L338.20,341.97 L338.31,341.13 L338.45,340.27 L338.61,339.41 L338.80,338.54 L339.01,337.67 L339.26,336.79 L339.52,335.91 L339.82,335.03 L340.14,334.14 L340.48,333.26 L340.85,332.38 L341.25,331.51 L341.66,330.64 L342.10,329.77 L342.57,328.92 L343.05,328.07 L343.56,327.24 L344.08,326.42 L344.63,325.61 L345.19,324.81 L345.78,324.03 L346.38,323.27 L346.99,322.53 L347.63,321.80 L348.27,321.10 L348.93,320.42 L349.61,319.76 L350.29,319.12 L350.99,318.52 L351.69,317.93 L352.41,317.38 L353.13,316.85 L353.86,316.35 L354.59,315.88 L355.33,315.45 L356.07,315.04 L356.82,314.67 L357.56,314.33 L358.31,314.02 L359.05,313.75 L359.79,313.51 L360.53,313.31 L361.26,313.14 L361.99,313.01 L362.71,312.91 L363.42,312.86 L364.12,312.83 L364.81,312.85 L365.49,312.90 L366.16,312.99 L366.81,313.12 L367.45,313.28 L368.08,313.48 L368.68,313.72 L369.27,313.99 L369.84,314.30 L370.39,314.65 L370.92,315.03 L371.43,315.44 L371.92,315.89 L372.38,316.38 L372.82,316.89 L373.24,317.44 L373.63,318.02 L373.99,318.64 L374.33,319.28 L374.64,319.95 L374.92,320.65 L375.17,321.37 L375.40,322.13 L375.59,322.90 L375.76,323.70 L375.90,324.53 L376.00,325.37 L376.08,326.24 L376.12,327.12 L376.14,328.03 L376.12,328.95 L376.08,329.88 L376.00,330.83 L375.89,331.79 L375.75,332.76 L375.58,333.74 L375.37,334.73 L375.14,335.72 L374.88,336.72 L374.59,337.72 L374.27,338.73 L373.92,339.73 L373.54,340.74 L373.13,341.74 L372.69,342.73 L372.23,343.72 L371.75,344.71 L371.23,345.68 L370.69,346.64 L370.13,347.59 L369.55,348.53 L368.94,349.45 L368.31,350.36 L367.66,351.25 L366.99,352.11 L366.30,352.96 L365.59,353.79 L364.87,354.59 L364.13,355.37 L363.38,356.12 L362.61,356.84 L361.83,357.54 L361.04,358.20 L360.24,358.84 L359.43,359.44 L358.61,360.01 L357.79,360.55 L356.96,361.05 L356.13,361.51 L355.30,361.94 L354.46,362.33 L353.63,362.69 L352.79,363.00 L351.96,363.28 L351.14,363.52 L350.32,363.71 L349.50,363.87 L348.69,363.98 L347.90,364.06 L347.11,364.09 L346.33,364.08 L345.57,364.03 L344.82,363.94 L344.09,363.80 L343.37,363.62 L342.67,363.41 L341.99,363.15 L341.33,362.85 L340.69,362.50 L340.07,362.12 L339.48,361.70 L338.90,361.24 L338.36,360.74 L337.84,360.20 L337.35,359.63 L336.88,359.02 L336.44,358.37 L336.03,357.69 L335.65,356.97 L335.31,356.22 L334.99,355.44 L334.70,354.63 L334.45,353.79 L334.23,352.92 L334.04,352.03 L333.89,351.11 L333.77,350.16 L333.69,349.19 L333.63,348.20 L333.62,347.19 L333.64,346.16 L333.69,345.12 L333.78,344.05 L333.90,342.98 L334.06,341.89 L334.25,340.79 L334.47,339.69 L334.73,338.57 L335.03,337.45 L335.35,336.33 L335.72,335.20 L336.11,334.07 L336.53,332.95 L336.99,331.82 L337.48,330.71 L337.99,329.59 L338.54,328.49 L339.12,327.40 L339.72,326.32 L340.35,325.25 L341.01,324.19 L341.69,323.16 L342.39,322.14 L343.12,321.14 L343.87,320.16 L344.65,319.21 L345.44,318.28 L346.25,317.38 L347.08,316.50 L347.93,315.65 L348.79,314.83 L349.66,314.05 L350.55,313.30 L351.45,312.58 L352.35,311.90 L353.27,311.25 L354.19,310.64 L355.12,310.07 L356.06,309.54 L356.99,309.05 L357.93,308.60 L358.87,308.20 L359.81,307.83 L360.74,307.51 L361.67,307.24 L362.60,307.00 L363.51,306.82 L364.42,306.68 L365.32,306.58 L366.21,306.53 L367.08,306.53 L367.94,306.58 L368.79,306.67 L369.61,306.80 L370.42,306.99 L371.21,307.22 L371.98,307.49 L372.73,307.82 L373.46,308.18 L374.16,308.59 L374.83,309.05 L375.48,309.55 L376.10,310.09 L376.70,310.68 L377.26,311.30 L377.79,311.97 L378.29,312.68 L378.76,313.42 L379.20,314.21 L379.60,315.03 L379.97,315.88 L380.30,316.77 L380.60,317.69 L380.86,318.65 L381.08,319.63 L381.27,320.64 L381.42,321.68 L381.53,322.75 L381.61,323.84 L381.64,324.95 L381.64,326.09 L381.60,327.24 L381.52,328.41 L381.40,329.59 L381.25,330.79 L381.05,332.01 L380.82,333.23 L380.55,334.46 L380.24,335.70 L379.90,336.94 L379.52,338.18 L379.10,339.43 L378.64,340.67 L378.16,341.91 L377.64,343.15 L377.08,344.38 L376.49,345.60 L375.87,346.81 L375.22,348.01 L374.54,349.19 L373.83,350.36 L373.09,351.50 L372.33,352.63 L371.54,353.74 L370.72,354.82 L369.88,355.88 L369.02,356.92 L368.14,357.92 L367.23,358.89 L366.31,359.84 L365.38,360.74 L364.42,361.62 L363.46,362.46 L362.48,363.26 L361.49,364.02 L360.49,364.74 L359.48,365.42 L358.46,366.06 L357.44,366.66 L356.42,367.21 L355.39,367.71 L354.37,368.17 L353.34,368.58 L352.32,368.95 L351.30,369.26 L350.29,369.53 L349.29,369.75 L348.29,369.92 L347.31,370.03 L346.33,370.10 L345.38,370.11 L344.43,370.08 L343.51,369.99 L342.60,369.85 L341.71,369.66 L340.84,369.42 L340.00,369.13 L339.18,368.79 L338.38,368.40 L337.61,367.96 L336.87,367.47 L336.15,366.93 L335.47,366.35 L334.82,365.72 L334.20,365.04 L333.61,364.32 L333.06,363.56 L332.54,362.75 L332.06,361.90 L331.61,361.01 L331.21,360.08 L330.84,359.11 L330.51,358.11 L330.22,357.07 L329.97,356.00 L329.76,354.89 L329.59,353.76 L329.46,352.60 L329.38,351.41 L329.34,350.20 L329.33,348.96 L329.37,347.70 L329.46,346.42 L329.58,345.13 L329.75,343.81 L329.96,342.49 L330.21,341.15 L330.50,339.81 L330.83,338.45 L331.21,337.09 L331.62,335.73 L332.07,334.37 L332.57,333.00 L333.10,331.64 L333.66,330.29 L334.27,328.94 L334.91,327.60 L335.59,326.27 L336.30,324.96 L337.04,323.66 L337.81,322.37 L338.62,321.11 L339.46,319.87 L340.32,318.65 L341.21,317.46 L342.13,316.29 L343.07,315.15 L344.04,314.04 L345.02,312.97 L346.03,311.93 L347.06,310.93 L348.10,309.96 L349.16,309.03 L350.23,308.14 L351.32,307.30 L352.41,306.50 L353.52,305.74 L354.63,305.03 L355.75,304.36 L356.88,303.75 L358.00,303.18 L359.13,302.66 L360.26,302.20 L361.38,301.78 L362.50,301.42 L363.61,301.11 L364.71,300.86 L365.81,300.66 L366.89,300.52 L367.96,300.43 L369.02,300.39 L370.06,300.42 L371.08,300.49 L372.09,300.63 L373.07,300.82 L374.03,301.06 L374.96,301.36 L375.87,301.71 L376.75,302.12 L377.61,302.58 L378.43,303.10 L379.23,303.67 L379.99,304.29 L380.71,304.96 L381.41,305.68 L382.06,306.45 L382.68,307.27 L383.26,308.13 L383.81,309.04 L384.31,310.00 L384.77,310.99 L385.19,312.03 L385.57,313.11 L385.91,314.23 L386.20,315.38 L386.45,316.57 L386.65,317.79 L386.81,319.05 L386.92,320.33 L386.99,321.64 L387.01,322.97 L386.99,324.33 L386.92,325.72 L386.81,327.12 L386.64,328.53 L386.44,329.97 L386.19,331.42 L385.89,332.87 L385.55,334.34 L385.16,335.81 L384.73,337.29 L384.26,338.77 L383.75,340.25 L383.19,341.73 L382.59,343.20 L381.96,344.66 L381.28,346.12 L380.57,347.56 L379.81,348.99 L379.03,350.40 L378.20,351.80 L377.35,353.18 L376.46,354.53 L375.54,355.86 L374.59,357.16 L373.61,358.43 L372.60,359.67 L371.57,360.88 L370.51,362.05 L369.43,363.19 L368.34,364.29 L367.22,365.35 L366.08,366.37 L364.93,367.34 L363.77,368.27 L362.59,369.15 L361.40,369.98 L360.21,370.77 L359.00,371.50 L357.79,372.18 L356.58,372.81 L355.37,373.39 L354.16,373.91 L352.95,374.37 L351.74,374.78 L350.55,375.12 L349.35,375.42 L348.17,375.65 L347.00,375.82 L345.85,375.93 L344.71,375.99 L343.58,375.98 L342.48,375.91 L341.40,375.79 L340.34,375.60 L339.30,375.35 L338.29,375.04 L337.30,374.68 L336.35,374.25 L335.42,373.77 L334.53,373.23 L333.67,372.63 L332.84,371.98 L332.05,371.27 L331.30,370.50 L330.58,369.68 L329.91,368.82 L329.28,367.90 L328.69,366.93 L328.14,365.91 L327.63,364.84 L327.17,363.73 L326.76,362.58 L326.39,361.39 L326.06,360.15 L325.79,358.88 L325.56,357.57 L325.38,356.23 L325.25,354.85 L325.17,353.45 L325.14,352.01 L325.16,350.55 L325.22,349.07 L325.34,347.56 L325.51,346.03 L325.72,344.49 L325.98,342.93 L326.30,341.36 L326.66,339.78 L327.06,338.20 L327.52,336.60 L328.02,335.01 L328.57,333.41 L329.16,331.82 L329.80,330.23 L330.48,328.65 L331.20,327.07 L331.97,325.51 L332.78,323.97 L333.62,322.44 L334.50,320.93 L335.42,319.44 L336.38,317.97 L337.36,316.53 L338.39,315.12 L339.44,313.74 L340.52,312.39 L341.63,311.08 L342.76,309.80 L343.93,308.56 L345.11,307.36 L346.31,306.21 L347.54,305.10 L348.78,304.04 L350.03,303.02 L351.30,302.06 L352.58,301.14 L353.88,300.28 L355.18,299.47 L356.48,298.72 L357.79,298.03 L359.10,297.39 L360.41,296.81 L361.72,296.29 L363.03,295.83 L364.32,295.44 L365.61,295.11 L366.89,294.84 L368.16,294.63 L369.42,294.49 L370.66,294.41" style="stroke:#1a1a1a;stroke-width:0.85"/>
<path d="M351,332.5 L356.5,335 L351.5,340 Z" class="t"/>
<path d="M353.2,334.5 L393.2,359.1 M310,311.6 L329.5,322.7" class="t"/>
</g>

<!-- PART 8 plug -->
<g class="p">
<path d="M386.5,246.2 Q389,244.6 392,245.4 L393.8,247.6 L397,250.2 L397.6,255.5 Q396.4,258.3 393,258 L390.5,256.5 L386,255.3 Q384,252.2 384.5,248.6 Z" fill="#fff"/>
<ellipse cx="394.8" cy="254" rx="2.4" ry="3.8" transform="rotate(-20 394.8 254)"/>
<path d="M387.8,246.5 L387.8,255.3 M389.5,246 Q388.5,250 390,255" class="t"/>
<path d="M397.6,255.1 L402.5,257.5" class="ld"/>
</g>
<!-- PART 7 grommet -->
<g class="p">
<path d="M575.2,208.8 L596.1,210.9 L605.8,219.4 L585.8,220 Z" fill="#fff"/>
<path d="M579.1,210.9 L595.5,212.1 L602.8,218.2 L586.4,218.2 Z" class="t"/>
<path d="M577.3,214 Q578.5,222 580.9,228.5 Q586,233.5 591.9,228.5 Q596,223.5 602.8,220.6"/>
<path d="M578.5,218.5 L586,221.5 L602,221 M579.5,223 L585,225 L599,224 M580.5,226.5 L586,227.5 L595,227" class="t"/>
<path d="M586.3,211.5 L589,218" class="t"/>
</g>
<!-- PART 6 screw -->
<g class="p">
<path d="M558,308 L572.5,315.5 M556.5,312.5 L571,320.5 M558,308 Q555.3,309.5 556.5,312.5"/>
<ellipse cx="576" cy="320.7" rx="3.6" ry="4.6" transform="rotate(-25 576 320.7)" fill="#fff"/>
<path d="M574,319 L577.5,322 M576.3,318.5 L575.3,322.5" class="t"/>
<path d="M559.5,309 L558,313 M561.5,310 L560,314 M563.5,311 L562,315 M565.5,312 L564,316 M567.5,313 L566,317 M569.5,314 L568,318" class="t"/>
<path d="M532,293 L556.5,309" class="t"/>
</g>


<!-- PART 11 cover -->
<!-- COVER -->

<defs>
<clipPath id="cg"><polygon points="502.0,268.5 505.0,276.0 511.2,282.8 519.0,300.0 524.1,308.3 529.3,314.6 534.5,319.8 540.0,323.0 546.0,328.0 550.5,334.0 550.5,340.0 548.8,350.0 547.5,362.0 545.5,376.0 543.0,390.0 540.0,403.0 537.0,413.0 534.0,423.0 530.5,432.0 533.3,431.1 525.5,418.6 506.8,399.9 483.4,384.3 463.9,375.7 461.5,374.0 455.0,340.0 444.5,305.5"/></clipPath>
<clipPath id="cl"><polygon points="449.8,396.5 459.7,399.0 459.7,446.0 462.5,464.0 466.0,476.7 464.0,486.0 455.0,493.0 440.8,494.7 430.0,489.3 422.8,478.5 419.2,464.0 417.4,451.5 416.5,437.0 417.4,428.0 425.0,418.0 433.0,410.0 441.0,403.0"/></clipPath>
</defs>
<g clip-path="url(#cg)">
<g stroke="#e3e3e3" stroke-width="5" fill="none">
<path d="M425.0,226.3 L428.0,228.0 L431.0,229.6 L434.0,231.3 L437.0,232.9 L440.0,234.6 L443.0,236.2 L446.0,237.9 L449.0,239.5 L452.0,241.2 L455.0,242.8 L458.0,244.5 L461.0,246.1 L464.0,247.8 L467.0,249.4 L470.0,251.1 L473.0,252.7 L476.0,254.4 L479.0,256.0 L482.0,257.7 L485.0,259.3 L488.0,261.0 L491.0,262.6 L494.0,264.3 L497.0,265.9 L500.0,267.6 L503.0,269.2 L506.0,270.9 L509.0,272.5 L512.0,274.2 L515.0,275.8 L518.0,277.5 L521.0,279.1 L524.0,280.8 L527.0,282.4 L530.0,284.1 L533.0,285.7 L536.0,287.4 L539.0,289.0 L542.0,290.7 L545.0,292.3 L548.0,294.0 L551.0,295.6 L554.0,297.3"/>
<path d="M425.0,235.4 L428.0,237.1 L431.0,238.7 L434.0,240.4 L437.0,242.0 L440.0,243.7 L443.0,245.3 L446.0,247.0 L449.0,248.6 L452.0,250.3 L455.0,251.9 L458.0,253.6 L461.0,255.2 L464.0,256.9 L467.0,258.5 L470.0,260.2 L473.0,261.8 L476.0,263.5 L479.0,265.1 L482.0,266.8 L485.0,268.4 L488.0,270.1 L491.0,271.7 L494.0,273.4 L497.0,275.0 L500.0,276.7 L503.0,278.3 L506.0,280.0 L509.0,281.6 L512.0,283.3 L515.0,284.9 L518.0,286.6 L521.0,288.2 L524.0,289.9 L527.0,291.5 L530.0,293.2 L533.0,294.8 L536.0,296.5 L539.0,298.1 L542.0,299.8 L545.0,301.4 L548.0,303.1 L551.0,304.7 L554.0,306.4"/>
<path d="M425.0,244.5 L428.0,246.2 L431.0,247.8 L434.0,249.5 L437.0,251.1 L440.0,252.8 L443.0,254.4 L446.0,256.1 L449.0,257.7 L452.0,259.4 L455.0,261.0 L458.0,262.7 L461.0,264.3 L464.0,266.0 L467.0,267.6 L470.0,269.3 L473.0,270.9 L476.0,272.6 L479.0,274.2 L482.0,275.9 L485.0,277.5 L488.0,279.2 L491.0,280.8 L494.0,282.5 L497.0,284.1 L500.0,285.8 L503.0,287.4 L506.0,289.1 L509.0,290.7 L512.0,292.4 L515.0,294.0 L518.0,295.7 L521.0,297.3 L524.0,299.0 L527.0,300.6 L530.0,302.3 L533.0,303.9 L536.0,305.6 L539.0,307.2 L542.0,308.9 L545.0,310.5 L548.0,312.2 L551.0,313.8 L554.0,315.5"/>
<path d="M425.0,253.6 L428.0,255.3 L431.0,256.9 L434.0,258.6 L437.0,260.2 L440.0,261.9 L443.0,263.5 L446.0,265.2 L449.0,266.8 L452.0,268.5 L455.0,270.1 L458.0,271.8 L461.0,273.4 L464.0,275.1 L467.0,276.7 L470.0,278.4 L473.0,280.0 L476.0,281.7 L479.0,283.3 L482.0,285.0 L485.0,286.6 L488.0,288.3 L491.0,289.9 L494.0,291.6 L497.0,293.2 L500.0,294.9 L503.0,296.5 L506.0,298.2 L509.0,299.8 L512.0,301.5 L515.0,303.1 L518.0,304.8 L521.0,306.4 L524.0,308.1 L527.0,309.7 L530.0,311.4 L533.0,313.0 L536.0,314.7 L539.0,316.3 L542.0,318.0 L545.0,319.6 L548.0,321.3 L551.0,322.9 L554.0,324.6"/>
<path d="M425.0,262.7 L428.0,264.4 L431.0,266.0 L434.0,267.7 L437.0,269.3 L440.0,271.0 L443.0,272.6 L446.0,274.3 L449.0,275.9 L452.0,277.6 L455.0,279.2 L458.0,280.9 L461.0,282.5 L464.0,284.2 L467.0,285.8 L470.0,287.5 L473.0,289.1 L476.0,290.8 L479.0,292.4 L482.0,294.1 L485.0,295.7 L488.0,297.4 L491.0,299.0 L494.0,300.7 L497.0,302.3 L500.0,304.0 L503.0,305.6 L506.0,307.3 L509.0,308.9 L512.0,310.6 L515.0,312.2 L518.0,313.9 L521.0,315.5 L524.0,317.2 L527.0,318.8 L530.0,320.5 L533.0,322.1 L536.0,323.8 L539.0,325.4 L542.0,327.1 L545.0,328.7 L548.0,330.4 L551.0,332.0 L554.0,333.7"/>
<path d="M425.0,271.8 L428.0,273.5 L431.0,275.1 L434.0,276.8 L437.0,278.4 L440.0,280.1 L443.0,281.7 L446.0,283.4 L449.0,285.0 L452.0,286.7 L455.0,288.3 L458.0,290.0 L461.0,291.6 L464.0,293.3 L467.0,294.9 L470.0,296.6 L473.0,298.2 L476.0,299.9 L479.0,301.5 L482.0,303.2 L485.0,304.8 L488.0,306.5 L491.0,308.1 L494.0,309.8 L497.0,311.4 L500.0,313.1 L503.0,314.7 L506.0,316.4 L509.0,318.0 L512.0,319.7 L515.0,321.3 L518.0,323.0 L521.0,324.6 L524.0,326.3 L527.0,327.9 L530.0,329.6 L533.0,331.2 L536.0,332.9 L539.0,334.5 L542.0,336.2 L545.0,337.8 L548.0,339.5 L551.0,341.1 L554.0,342.8"/>
<path d="M425.0,280.9 L428.0,282.6 L431.0,284.2 L434.0,285.9 L437.0,287.6 L440.0,289.2 L443.0,290.8 L446.0,292.5 L449.0,294.1 L452.0,295.8 L455.0,297.4 L458.0,299.1 L461.0,300.8 L464.0,302.4 L467.0,304.1 L470.0,305.7 L473.0,307.3 L476.0,309.0 L479.0,310.6 L482.0,312.3 L485.0,313.9 L488.0,315.6 L491.0,317.2 L494.0,318.9 L497.0,320.6 L500.0,322.2 L503.0,323.8 L506.0,325.5 L509.0,327.1 L512.0,328.8 L515.0,330.4 L518.0,332.1 L521.0,333.8 L524.0,335.4 L527.0,337.1 L530.0,338.7 L533.0,340.3 L536.0,342.0 L539.0,343.6 L542.0,345.3 L545.0,346.9 L548.0,348.6 L551.0,350.2 L554.0,351.9"/>
<path d="M425.0,290.1 L428.0,291.7 L431.0,293.4 L434.0,295.0 L437.0,296.7 L440.0,298.3 L443.0,299.9 L446.0,301.6 L449.0,303.2 L452.0,304.9 L455.0,306.6 L458.0,308.2 L461.0,309.9 L464.0,311.5 L467.0,313.2 L470.0,314.8 L473.0,316.4 L476.0,318.1 L479.0,319.8 L482.0,321.4 L485.0,323.1 L488.0,324.7 L491.0,326.4 L494.0,328.0 L497.0,329.7 L500.0,331.3 L503.0,332.9 L506.0,334.6 L509.0,336.2 L512.0,337.9 L515.0,339.6 L518.0,341.2 L521.0,342.9 L524.0,344.5 L527.0,346.2 L530.0,347.8 L533.0,349.4 L536.0,351.1 L539.0,352.8 L542.0,354.4 L545.0,356.1 L548.0,357.7 L551.0,359.4 L554.0,361.0"/>
<path d="M425.0,299.2 L428.0,300.8 L431.0,302.4 L434.0,304.0 L437.0,305.7 L440.0,307.3 L443.0,308.9 L446.0,310.6 L449.0,312.2 L452.0,313.8 L455.0,315.5 L458.0,317.1 L461.0,318.7 L464.0,320.4 L467.0,322.0 L470.0,323.6 L473.0,325.2 L476.0,326.9 L479.0,328.5 L482.0,330.1 L485.0,331.8 L488.0,333.4 L491.0,335.0 L494.0,336.7 L497.0,338.3 L500.0,339.9 L503.0,341.6 L506.0,343.2 L509.0,344.8 L512.0,346.5 L515.0,348.1 L518.0,349.7 L521.0,351.3 L524.0,353.0 L527.0,354.6 L530.0,356.2 L533.0,357.9 L536.0,359.5 L539.0,361.1 L542.0,362.8 L545.0,364.4 L548.0,366.0 L551.0,367.7 L554.0,369.3"/>
<path d="M425.0,308.3 L428.0,309.8 L431.0,311.4 L434.0,313.0 L437.0,314.6 L440.0,316.2 L443.0,317.7 L446.0,319.3 L449.0,320.9 L452.0,322.5 L455.0,324.1 L458.0,325.6 L461.0,327.2 L464.0,328.8 L467.0,330.4 L470.0,332.0 L473.0,333.6 L476.0,335.1 L479.0,336.7 L482.0,338.3 L485.0,339.9 L488.0,341.5 L491.0,343.0 L494.0,344.6 L497.0,346.2 L500.0,347.9 L503.0,349.6 L506.0,351.2 L509.0,353.0 L512.0,354.7 L515.0,356.5 L518.0,358.3 L521.0,360.1 L524.0,362.0 L527.0,363.9 L530.0,365.8 L533.0,367.7 L536.0,369.7 L539.0,371.6 L542.0,373.7 L545.0,375.7 L548.0,377.8 L551.0,379.9 L554.0,382.0"/>
<path d="M425.0,317.4 L428.0,318.9 L431.0,320.4 L434.0,321.9 L437.0,323.5 L440.0,325.0 L443.0,326.5 L446.0,328.1 L449.0,329.6 L452.0,331.1 L455.0,332.7 L458.0,334.2 L461.0,335.7 L464.0,337.3 L467.0,338.8 L470.0,340.3 L473.0,341.9 L476.0,343.4 L479.0,344.9 L482.0,346.5 L485.0,348.0 L488.0,349.5 L491.0,351.1 L494.0,352.6 L497.0,354.2 L500.0,355.9 L503.0,357.6 L506.0,359.5 L509.0,361.4 L512.0,363.3 L515.0,365.3 L518.0,367.4 L521.0,369.6 L524.0,371.9 L527.0,374.2 L530.0,376.5 L533.0,379.0 L536.0,381.5 L539.0,384.1 L542.0,386.7 L545.0,389.5 L548.0,392.3 L551.0,395.1 L554.0,398.1"/>
<path d="M425.0,326.5 L428.0,327.9 L431.0,329.4 L434.0,330.9 L437.0,332.4 L440.0,333.9 L443.0,335.3 L446.0,336.8 L449.0,338.3 L452.0,339.8 L455.0,341.3 L458.0,342.8 L461.0,344.2 L464.0,345.7 L467.0,347.2 L470.0,348.7 L473.0,350.2 L476.0,351.6 L479.0,353.1 L482.0,354.6 L485.0,356.1 L488.0,357.6 L491.0,359.1 L494.0,360.6 L497.0,362.2 L500.0,363.9 L503.0,365.7 L506.0,367.7 L509.0,369.8 L512.0,371.9 L515.0,374.2 L518.0,376.6 L521.0,379.1 L524.0,381.7 L527.0,384.5 L530.0,387.3 L533.0,390.3 L536.0,393.3 L539.0,396.5 L542.0,399.8 L545.0,403.2 L548.0,406.7 L551.0,410.4 L554.0,414.1"/>
<path d="M425.0,335.6 L428.0,337.0 L431.0,338.4 L434.0,339.8 L437.0,341.3 L440.0,342.7 L443.0,344.1 L446.0,345.6 L449.0,347.0 L452.0,348.4 L455.0,349.9 L458.0,351.3 L461.0,352.7 L464.0,354.2 L467.0,355.6 L470.0,357.0 L473.0,358.5 L476.0,359.9 L479.0,361.3 L482.0,362.8 L485.0,364.2 L488.0,365.6 L491.0,367.1 L494.0,368.5 L497.0,370.1 L500.0,371.9 L503.0,373.8 L506.0,375.9 L509.0,378.1 L512.0,380.5 L515.0,383.1 L518.0,385.8 L521.0,388.6 L524.0,391.6 L527.0,394.8 L530.0,398.1 L533.0,401.6 L536.0,405.2 L539.0,409.0 L542.0,412.9 L545.0,417.0 L548.0,421.2 L551.0,425.6 L554.0,430.2"/>
</g>
<path d="M430.0,226.6 L429.0,231.8 M448.0,236.5 L447.0,241.7 M466.0,246.4 L465.0,251.6 M484.0,256.3 L483.0,261.5 M502.0,266.2 L501.0,271.4 M520.0,276.1 L519.0,281.3 M538.0,286.0 L537.0,291.2 M446.4,244.7 L445.4,249.9 M464.4,254.6 L463.4,259.8 M482.4,264.5 L481.4,269.7 M500.4,274.4 L499.4,279.6 M518.4,284.3 L517.4,289.5 M536.4,294.2 L535.4,299.4 M554.4,304.1 L553.4,309.3 M444.8,252.9 L443.8,258.1 M462.8,262.8 L461.8,268.0 M480.8,272.7 L479.8,277.9 M498.8,282.6 L497.8,287.8 M516.8,292.5 L515.8,297.7 M534.8,302.4 L533.8,307.6 M552.8,312.3 L551.8,317.5 M443.2,261.2 L442.2,266.4 M461.2,271.1 L460.2,276.3 M479.2,281.0 L478.2,286.2 M497.2,290.9 L496.2,296.1 M515.2,300.8 L514.2,306.0 M533.2,310.7 L532.2,315.9 M551.2,320.6 L550.2,325.8 M441.6,269.4 L440.6,274.6 M459.6,279.3 L458.6,284.5 M477.6,289.2 L476.6,294.4 M495.6,299.1 L494.6,304.3 M513.6,309.0 L512.6,314.2 M531.6,318.9 L530.6,324.1 M549.6,328.8 L548.6,334.0 M440.0,277.6 L439.0,282.8 M458.0,287.5 L457.0,292.7 M476.0,297.4 L475.0,302.6 M494.0,307.3 L493.0,312.5 M512.0,317.2 L511.0,322.4 M530.0,327.1 L529.0,332.3 M548.0,337.0 L547.0,342.2 M438.4,285.8 L437.4,291.0 M456.4,295.7 L455.4,300.9 M474.4,305.6 L473.4,310.8 M492.4,315.5 L491.4,320.7 M510.4,325.4 L509.4,330.6 M528.4,335.3 L527.4,340.5 M546.4,345.2 L545.4,350.4 M436.8,294.0 L435.8,299.2 M454.8,303.9 L453.8,309.1 M472.8,313.8 L471.8,319.0 M490.8,323.7 L489.8,328.9 M508.8,333.6 L507.8,338.8 M526.8,343.5 L525.8,348.7 M544.8,353.4 L543.8,358.6 M435.2,302.2 L434.2,307.4 M453.2,312.0 L452.2,317.2 M471.2,321.8 L470.2,327.0 M489.2,331.6 L488.2,336.8 M507.2,341.3 L506.2,346.5 M525.2,351.1 L524.2,356.3 M543.2,360.9 L542.2,366.1 M433.6,310.3 L432.6,315.5 M451.6,319.8 L450.6,325.0 M469.6,329.3 L468.6,334.5 M487.6,338.8 L486.6,344.0 M505.6,348.5 L504.6,353.7 M523.6,359.2 L522.6,364.4 M541.6,370.9 L540.6,376.1 M432.0,318.4 L431.0,323.6 M450.0,327.6 L449.0,332.8 M468.0,336.8 L467.0,342.0 M486.0,346.0 L485.0,351.2 M504.0,355.7 L503.0,360.9 M522.0,367.9 L521.0,373.1 M430.4,326.6 L429.4,331.8 M448.4,335.5 L447.4,340.7 M466.4,344.4 L465.4,349.6 M484.4,353.3 L483.4,358.5 M502.4,362.9 L501.4,368.1 M446.8,343.5 L445.8,348.7 M464.8,352.1 L463.8,357.3 M482.8,360.7 L481.8,365.9" stroke="#5a5a5a" stroke-width="2.0" fill="none"/>
<path d="M439.0,231.5 L438.0,236.7 M457.0,241.4 L456.0,246.6 M475.0,251.3 L474.0,256.5 M493.0,261.2 L492.0,266.4 M511.0,271.1 L510.0,276.3 M529.0,281.0 L528.0,286.2 M547.0,290.9 L546.0,296.1 M455.4,249.7 L454.4,254.9 M473.4,259.6 L472.4,264.8 M491.4,269.5 L490.4,274.7 M509.4,279.4 L508.4,284.6 M527.4,289.3 L526.4,294.5 M545.4,299.2 L544.4,304.4 M563.4,309.1 L562.4,314.3 M453.8,257.9 L452.8,263.1 M471.8,267.8 L470.8,273.0 M489.8,277.7 L488.8,282.9 M507.8,287.6 L506.8,292.8 M525.8,297.5 L524.8,302.7 M543.8,307.4 L542.8,312.6 M561.8,317.3 L560.8,322.5 M452.2,266.1 L451.2,271.3 M470.2,276.0 L469.2,281.2 M488.2,285.9 L487.2,291.1 M506.2,295.8 L505.2,301.0 M524.2,305.7 L523.2,310.9 M542.2,315.6 L541.2,320.8 M560.2,325.5 L559.2,330.7 M450.6,274.3 L449.6,279.5 M468.6,284.2 L467.6,289.4 M486.6,294.1 L485.6,299.3 M504.6,304.0 L503.6,309.2 M522.6,313.9 L521.6,319.1 M540.6,323.8 L539.6,329.0 M558.6,333.7 L557.6,338.9 M449.0,282.5 L448.0,287.7 M467.0,292.4 L466.0,297.6 M485.0,302.3 L484.0,307.5 M503.0,312.2 L502.0,317.4 M521.0,322.1 L520.0,327.3 M539.0,332.0 L538.0,337.2 M557.0,341.9 L556.0,347.1 M447.4,290.8 L446.4,296.0 M465.4,300.7 L464.4,305.9 M483.4,310.6 L482.4,315.8 M501.4,320.5 L500.4,325.7 M519.4,330.4 L518.4,335.6 M537.4,340.3 L536.4,345.5 M555.4,350.2 L554.4,355.4 M445.8,299.0 L444.8,304.2 M463.8,308.9 L462.8,314.1 M481.8,318.8 L480.8,324.0 M499.8,328.7 L498.8,333.9 M517.8,338.6 L516.8,343.8 M535.8,348.5 L534.8,353.7 M553.8,358.4 L552.8,363.6 M444.2,307.1 L443.2,312.3 M462.2,316.9 L461.2,322.1 M480.2,326.7 L479.2,331.9 M498.2,336.5 L497.2,341.7 M516.2,346.2 L515.2,351.4 M534.2,356.0 L533.2,361.2 M552.2,365.8 L551.2,371.0 M442.6,315.0 L441.6,320.2 M460.6,324.5 L459.6,329.7 M478.6,334.0 L477.6,339.2 M496.6,343.5 L495.6,348.7 M514.6,353.7 L513.6,358.9 M532.6,364.9 L531.6,370.1 M550.6,377.1 L549.6,382.3 M441.0,323.0 L440.0,328.2 M459.0,332.2 L458.0,337.4 M477.0,341.4 L476.0,346.6 M495.0,350.6 L494.0,355.8 M513.0,361.5 L512.0,366.7 M531.0,374.8 L530.0,380.0 M439.4,331.1 L438.4,336.3 M457.4,340.0 L456.4,345.2 M475.4,348.9 L474.4,354.1 M493.4,357.8 L492.4,363.0 M511.4,369.0 L510.4,374.2 M455.8,347.8 L454.8,353.0 M473.8,356.4 L472.8,361.6 M491.8,365.0 L490.8,370.2" stroke="#8a8a8a" stroke-width="1.1" fill="none"/>
<g stroke="#1e1e1e" stroke-width="1" fill="none">
<path d="M425.0,220.6 L428.0,222.3 L431.0,223.9 L434.0,225.6 L437.0,227.2 L440.0,228.9 L443.0,230.5 L446.0,232.2 L449.0,233.8 L452.0,235.5 L455.0,237.1 L458.0,238.8 L461.0,240.4 L464.0,242.1 L467.0,243.7 L470.0,245.4 L473.0,247.0 L476.0,248.7 L479.0,250.3 L482.0,252.0 L485.0,253.6 L488.0,255.3 L491.0,256.9 L494.0,258.6 L497.0,260.2 L500.0,261.9 L503.0,263.5 L506.0,265.2 L509.0,266.8 L512.0,268.5 L515.0,270.1 L518.0,271.8 L521.0,273.4 L524.0,275.1 L527.0,276.8 L530.0,278.4 L533.0,280.0 L536.0,281.7 L539.0,283.3 L542.0,285.0 L545.0,286.6 L548.0,288.3 L551.0,289.9 L554.0,291.6"/>
<path d="M425.0,229.7 L428.0,231.4 L431.0,233.0 L434.0,234.7 L437.0,236.3 L440.0,238.0 L443.0,239.6 L446.0,241.3 L449.0,242.9 L452.0,244.6 L455.0,246.2 L458.0,247.9 L461.0,249.5 L464.0,251.2 L467.0,252.8 L470.0,254.5 L473.0,256.1 L476.0,257.8 L479.0,259.4 L482.0,261.1 L485.0,262.8 L488.0,264.4 L491.0,266.0 L494.0,267.7 L497.0,269.3 L500.0,271.0 L503.0,272.6 L506.0,274.3 L509.0,275.9 L512.0,277.6 L515.0,279.2 L518.0,280.9 L521.0,282.5 L524.0,284.2 L527.0,285.8 L530.0,287.5 L533.0,289.1 L536.0,290.8 L539.0,292.4 L542.0,294.1 L545.0,295.8 L548.0,297.4 L551.0,299.0 L554.0,300.7"/>
<path d="M425.0,238.8 L428.0,240.5 L431.0,242.1 L434.0,243.8 L437.0,245.4 L440.0,247.1 L443.0,248.7 L446.0,250.4 L449.0,252.0 L452.0,253.7 L455.0,255.3 L458.0,257.0 L461.0,258.6 L464.0,260.3 L467.0,261.9 L470.0,263.6 L473.0,265.2 L476.0,266.9 L479.0,268.5 L482.0,270.2 L485.0,271.8 L488.0,273.5 L491.0,275.1 L494.0,276.8 L497.0,278.4 L500.0,280.1 L503.0,281.8 L506.0,283.4 L509.0,285.0 L512.0,286.7 L515.0,288.3 L518.0,290.0 L521.0,291.6 L524.0,293.3 L527.0,294.9 L530.0,296.6 L533.0,298.2 L536.0,299.9 L539.0,301.5 L542.0,303.2 L545.0,304.8 L548.0,306.5 L551.0,308.1 L554.0,309.8"/>
<path d="M425.0,247.9 L428.0,249.6 L431.0,251.2 L434.0,252.9 L437.0,254.5 L440.0,256.2 L443.0,257.8 L446.0,259.5 L449.0,261.1 L452.0,262.8 L455.0,264.4 L458.0,266.1 L461.0,267.7 L464.0,269.4 L467.0,271.0 L470.0,272.7 L473.0,274.3 L476.0,276.0 L479.0,277.6 L482.0,279.3 L485.0,280.9 L488.0,282.6 L491.0,284.2 L494.0,285.9 L497.0,287.5 L500.0,289.2 L503.0,290.8 L506.0,292.5 L509.0,294.1 L512.0,295.8 L515.0,297.4 L518.0,299.1 L521.0,300.7 L524.0,302.4 L527.0,304.0 L530.0,305.7 L533.0,307.3 L536.0,309.0 L539.0,310.6 L542.0,312.3 L545.0,313.9 L548.0,315.6 L551.0,317.2 L554.0,318.9"/>
<path d="M425.0,257.0 L428.0,258.7 L431.0,260.3 L434.0,262.0 L437.0,263.6 L440.0,265.3 L443.0,266.9 L446.0,268.6 L449.0,270.2 L452.0,271.9 L455.0,273.5 L458.0,275.2 L461.0,276.8 L464.0,278.5 L467.0,280.1 L470.0,281.8 L473.0,283.4 L476.0,285.1 L479.0,286.7 L482.0,288.4 L485.0,290.0 L488.0,291.7 L491.0,293.3 L494.0,295.0 L497.0,296.6 L500.0,298.3 L503.0,299.9 L506.0,301.6 L509.0,303.2 L512.0,304.9 L515.0,306.5 L518.0,308.2 L521.0,309.8 L524.0,311.5 L527.0,313.1 L530.0,314.8 L533.0,316.4 L536.0,318.1 L539.0,319.7 L542.0,321.4 L545.0,323.0 L548.0,324.7 L551.0,326.3 L554.0,328.0"/>
<path d="M425.0,266.1 L428.0,267.8 L431.0,269.4 L434.0,271.1 L437.0,272.8 L440.0,274.4 L443.0,276.0 L446.0,277.7 L449.0,279.3 L452.0,281.0 L455.0,282.6 L458.0,284.3 L461.0,285.9 L464.0,287.6 L467.0,289.2 L470.0,290.9 L473.0,292.5 L476.0,294.2 L479.0,295.8 L482.0,297.5 L485.0,299.1 L488.0,300.8 L491.0,302.4 L494.0,304.1 L497.0,305.8 L500.0,307.4 L503.0,309.0 L506.0,310.7 L509.0,312.3 L512.0,314.0 L515.0,315.6 L518.0,317.3 L521.0,318.9 L524.0,320.6 L527.0,322.2 L530.0,323.9 L533.0,325.5 L536.0,327.2 L539.0,328.8 L542.0,330.5 L545.0,332.1 L548.0,333.8 L551.0,335.4 L554.0,337.1"/>
<path d="M425.0,275.2 L428.0,276.9 L431.0,278.6 L434.0,280.2 L437.0,281.9 L440.0,283.5 L443.0,285.1 L446.0,286.8 L449.0,288.4 L452.0,290.1 L455.0,291.8 L458.0,293.4 L461.0,295.1 L464.0,296.7 L467.0,298.4 L470.0,300.0 L473.0,301.6 L476.0,303.3 L479.0,304.9 L482.0,306.6 L485.0,308.2 L488.0,309.9 L491.0,311.6 L494.0,313.2 L497.0,314.9 L500.0,316.5 L503.0,318.1 L506.0,319.8 L509.0,321.4 L512.0,323.1 L515.0,324.8 L518.0,326.4 L521.0,328.1 L524.0,329.7 L527.0,331.4 L530.0,333.0 L533.0,334.6 L536.0,336.3 L539.0,337.9 L542.0,339.6 L545.0,341.2 L548.0,342.9 L551.0,344.6 L554.0,346.2"/>
<path d="M425.0,284.4 L428.0,286.0 L431.0,287.7 L434.0,289.3 L437.0,291.0 L440.0,292.6 L443.0,294.2 L446.0,295.9 L449.0,297.6 L452.0,299.2 L455.0,300.9 L458.0,302.5 L461.0,304.2 L464.0,305.8 L467.0,307.5 L470.0,309.1 L473.0,310.8 L476.0,312.4 L479.0,314.1 L482.0,315.7 L485.0,317.4 L488.0,319.0 L491.0,320.7 L494.0,322.3 L497.0,324.0 L500.0,325.6 L503.0,327.2 L506.0,328.9 L509.0,330.6 L512.0,332.2 L515.0,333.9 L518.0,335.5 L521.0,337.2 L524.0,338.8 L527.0,340.5 L530.0,342.1 L533.0,343.8 L536.0,345.4 L539.0,347.1 L542.0,348.7 L545.0,350.4 L548.0,352.0 L551.0,353.7 L554.0,355.3"/>
<path d="M425.0,293.5 L428.0,295.1 L431.0,296.7 L434.0,298.3 L437.0,300.0 L440.0,301.6 L443.0,303.2 L446.0,304.9 L449.0,306.5 L452.0,308.1 L455.0,309.8 L458.0,311.4 L461.0,313.0 L464.0,314.7 L467.0,316.3 L470.0,317.9 L473.0,319.5 L476.0,321.2 L479.0,322.8 L482.0,324.4 L485.0,326.1 L488.0,327.7 L491.0,329.3 L494.0,331.0 L497.0,332.6 L500.0,334.2 L503.0,335.9 L506.0,337.5 L509.0,339.1 L512.0,340.8 L515.0,342.4 L518.0,344.0 L521.0,345.6 L524.0,347.3 L527.0,348.9 L530.0,350.5 L533.0,352.2 L536.0,353.8 L539.0,355.4 L542.0,357.1 L545.0,358.7 L548.0,360.3 L551.0,362.0 L554.0,363.6"/>
<path d="M425.0,302.6 L428.0,304.1 L431.0,305.7 L434.0,307.3 L437.0,308.9 L440.0,310.5 L443.0,312.0 L446.0,313.6 L449.0,315.2 L452.0,316.8 L455.0,318.4 L458.0,319.9 L461.0,321.5 L464.0,323.1 L467.0,324.7 L470.0,326.3 L473.0,327.9 L476.0,329.4 L479.0,331.0 L482.0,332.6 L485.0,334.2 L488.0,335.8 L491.0,337.3 L494.0,338.9 L497.0,340.5 L500.0,342.2 L503.0,343.9 L506.0,345.5 L509.0,347.3 L512.0,349.0 L515.0,350.8 L518.0,352.6 L521.0,354.4 L524.0,356.3 L527.0,358.2 L530.0,360.1 L533.0,362.0 L536.0,364.0 L539.0,365.9 L542.0,368.0 L545.0,370.0 L548.0,372.1 L551.0,374.2 L554.0,376.3"/>
<path d="M425.0,311.7 L428.0,313.2 L431.0,314.7 L434.0,316.2 L437.0,317.8 L440.0,319.3 L443.0,320.8 L446.0,322.4 L449.0,323.9 L452.0,325.4 L455.0,327.0 L458.0,328.5 L461.0,330.0 L464.0,331.6 L467.0,333.1 L470.0,334.6 L473.0,336.2 L476.0,337.7 L479.0,339.2 L482.0,340.8 L485.0,342.3 L488.0,343.8 L491.0,345.4 L494.0,346.9 L497.0,348.5 L500.0,350.2 L503.0,351.9 L506.0,353.8 L509.0,355.7 L512.0,357.6 L515.0,359.6 L518.0,361.7 L521.0,363.9 L524.0,366.2 L527.0,368.5 L530.0,370.8 L533.0,373.3 L536.0,375.8 L539.0,378.4 L542.0,381.0 L545.0,383.8 L548.0,386.6 L551.0,389.4 L554.0,392.4"/>
<path d="M425.0,320.8 L428.0,322.2 L431.0,323.7 L434.0,325.2 L437.0,326.7 L440.0,328.2 L443.0,329.6 L446.0,331.1 L449.0,332.6 L452.0,334.1 L455.0,335.6 L458.0,337.1 L461.0,338.5 L464.0,340.0 L467.0,341.5 L470.0,343.0 L473.0,344.5 L476.0,345.9 L479.0,347.4 L482.0,348.9 L485.0,350.4 L488.0,351.9 L491.0,353.4 L494.0,354.9 L497.0,356.5 L500.0,358.2 L503.0,360.0 L506.0,362.0 L509.0,364.1 L512.0,366.2 L515.0,368.5 L518.0,370.9 L521.0,373.4 L524.0,376.0 L527.0,378.8 L530.0,381.6 L533.0,384.6 L536.0,387.6 L539.0,390.8 L542.0,394.1 L545.0,397.5 L548.0,401.0 L551.0,404.7 L554.0,408.4"/>
<path d="M425.0,329.9 L428.0,331.3 L431.0,332.7 L434.0,334.1 L437.0,335.6 L440.0,337.0 L443.0,338.4 L446.0,339.9 L449.0,341.3 L452.0,342.7 L455.0,344.2 L458.0,345.6 L461.0,347.0 L464.0,348.5 L467.0,349.9 L470.0,351.3 L473.0,352.8 L476.0,354.2 L479.0,355.6 L482.0,357.1 L485.0,358.5 L488.0,359.9 L491.0,361.4 L494.0,362.8 L497.0,364.4 L500.0,366.2 L503.0,368.1 L506.0,370.2 L509.0,372.4 L512.0,374.8 L515.0,377.4 L518.0,380.1 L521.0,382.9 L524.0,385.9 L527.0,389.1 L530.0,392.4 L533.0,395.9 L536.0,399.5 L539.0,403.3 L542.0,407.2 L545.0,411.3 L548.0,415.5 L551.0,419.9 L554.0,424.5"/>
<path d="M425.0,339.0 L428.0,340.3 L431.0,341.7 L434.0,343.1 L437.0,344.5 L440.0,345.9 L443.0,347.2 L446.0,348.6 L449.0,350.0 L452.0,351.4 L455.0,352.8 L458.0,354.2 L461.0,355.5 L464.0,356.9 L467.0,358.3 L470.0,359.7 L473.0,361.1 L476.0,362.5 L479.0,363.8 L482.0,365.2 L485.0,366.6 L488.0,368.0 L491.0,369.4 L494.0,370.8 L497.0,372.4 L500.0,374.2 L503.0,376.2 L506.0,378.4 L509.0,380.8 L512.0,383.4 L515.0,386.2 L518.0,389.2 L521.0,392.4 L524.0,395.8 L527.0,399.4 L530.0,403.2 L533.0,407.2 L536.0,411.3 L539.0,415.7 L542.0,420.3 L545.0,425.0 L548.0,430.0 L551.0,435.2 L554.0,440.5"/>
<path d="M425.0,348.1 L428.0,349.4 L431.0,350.8 L434.0,352.1 L437.0,353.5 L440.0,354.8 L443.0,356.2 L446.0,357.5 L449.0,358.9 L452.0,360.2 L455.0,361.6 L458.0,362.9 L461.0,364.3 L464.0,365.6 L467.0,367.0 L470.0,368.3 L473.0,369.7 L476.0,371.0 L479.0,372.4 L482.0,373.7 L485.0,375.1 L488.0,376.4 L491.0,377.8 L494.0,379.2 L497.0,380.8 L500.0,382.7 L503.0,384.8 L506.0,387.1 L509.0,389.7 L512.0,392.5 L515.0,395.6 L518.0,398.9 L521.0,402.5 L524.0,406.2 L527.0,410.3 L530.0,414.5 L533.0,419.0 L536.0,423.8 L539.0,428.8 L542.0,434.0 L545.0,439.5 L548.0,445.2 L551.0,451.1 L554.0,457.3"/>
<path d="M425.0,357.2 L428.0,358.5 L431.0,359.9 L434.0,361.2 L437.0,362.6 L440.0,363.9 L443.0,365.3 L446.0,366.6 L449.0,368.0 L452.0,369.3 L455.0,370.7 L458.0,372.0 L461.0,373.4 L464.0,374.7 L467.0,376.1 L470.0,377.4 L473.0,378.8 L476.0,380.1 L479.0,381.5 L482.0,382.8 L485.0,384.2 L488.0,385.5 L491.0,386.9 L494.0,388.3 L497.0,389.9 L500.0,391.9 L503.0,394.1 L506.0,396.7 L509.0,399.5 L512.0,402.6 L515.0,405.9 L518.0,409.6 L521.0,413.5 L524.0,417.8 L527.0,422.3 L530.0,427.1 L533.0,432.1 L536.0,437.5 L539.0,443.1 L542.0,449.0 L545.0,455.2 L548.0,461.7 L551.0,468.5 L554.0,475.5"/>
</g>
<g stroke="#3a3a3a" stroke-width="0.7" fill="none">
<path d="M425.0,223.3 L428.0,225.0 L431.0,226.6 L434.0,228.3 L437.0,229.9 L440.0,231.6 L443.0,233.2 L446.0,234.9 L449.0,236.5 L452.0,238.2 L455.0,239.8 L458.0,241.5 L461.0,243.1 L464.0,244.8 L467.0,246.4 L470.0,248.1 L473.0,249.7 L476.0,251.4 L479.0,253.0 L482.0,254.7 L485.0,256.3 L488.0,258.0 L491.0,259.6 L494.0,261.3 L497.0,262.9 L500.0,264.6 L503.0,266.2 L506.0,267.9 L509.0,269.5 L512.0,271.2 L515.0,272.8 L518.0,274.5 L521.0,276.1 L524.0,277.8 L527.0,279.4 L530.0,281.1 L533.0,282.7 L536.0,284.4 L539.0,286.0 L542.0,287.7 L545.0,289.3 L548.0,291.0 L551.0,292.6 L554.0,294.3"/>
<path d="M425.0,232.4 L428.0,234.1 L431.0,235.7 L434.0,237.4 L437.0,239.0 L440.0,240.7 L443.0,242.3 L446.0,244.0 L449.0,245.6 L452.0,247.3 L455.0,248.9 L458.0,250.6 L461.0,252.2 L464.0,253.9 L467.0,255.5 L470.0,257.2 L473.0,258.8 L476.0,260.5 L479.0,262.1 L482.0,263.8 L485.0,265.4 L488.0,267.1 L491.0,268.7 L494.0,270.4 L497.0,272.0 L500.0,273.7 L503.0,275.3 L506.0,277.0 L509.0,278.6 L512.0,280.3 L515.0,281.9 L518.0,283.6 L521.0,285.2 L524.0,286.9 L527.0,288.5 L530.0,290.2 L533.0,291.8 L536.0,293.5 L539.0,295.1 L542.0,296.8 L545.0,298.4 L548.0,300.1 L551.0,301.7 L554.0,303.4"/>
<path d="M425.0,241.5 L428.0,243.2 L431.0,244.8 L434.0,246.5 L437.0,248.1 L440.0,249.8 L443.0,251.4 L446.0,253.1 L449.0,254.7 L452.0,256.4 L455.0,258.0 L458.0,259.7 L461.0,261.3 L464.0,263.0 L467.0,264.6 L470.0,266.3 L473.0,267.9 L476.0,269.6 L479.0,271.2 L482.0,272.9 L485.0,274.5 L488.0,276.2 L491.0,277.8 L494.0,279.5 L497.0,281.1 L500.0,282.8 L503.0,284.4 L506.0,286.1 L509.0,287.7 L512.0,289.4 L515.0,291.0 L518.0,292.7 L521.0,294.3 L524.0,296.0 L527.0,297.6 L530.0,299.3 L533.0,300.9 L536.0,302.6 L539.0,304.2 L542.0,305.9 L545.0,307.5 L548.0,309.2 L551.0,310.8 L554.0,312.5"/>
<path d="M425.0,250.6 L428.0,252.3 L431.0,253.9 L434.0,255.6 L437.0,257.2 L440.0,258.9 L443.0,260.5 L446.0,262.2 L449.0,263.8 L452.0,265.5 L455.0,267.1 L458.0,268.8 L461.0,270.4 L464.0,272.1 L467.0,273.7 L470.0,275.4 L473.0,277.0 L476.0,278.7 L479.0,280.3 L482.0,282.0 L485.0,283.6 L488.0,285.3 L491.0,286.9 L494.0,288.6 L497.0,290.2 L500.0,291.9 L503.0,293.5 L506.0,295.2 L509.0,296.8 L512.0,298.5 L515.0,300.1 L518.0,301.8 L521.0,303.4 L524.0,305.1 L527.0,306.7 L530.0,308.4 L533.0,310.0 L536.0,311.7 L539.0,313.3 L542.0,315.0 L545.0,316.6 L548.0,318.3 L551.0,319.9 L554.0,321.6"/>
<path d="M425.0,259.7 L428.0,261.4 L431.0,263.0 L434.0,264.7 L437.0,266.3 L440.0,268.0 L443.0,269.6 L446.0,271.3 L449.0,272.9 L452.0,274.6 L455.0,276.2 L458.0,277.9 L461.0,279.5 L464.0,281.2 L467.0,282.8 L470.0,284.5 L473.0,286.1 L476.0,287.8 L479.0,289.4 L482.0,291.1 L485.0,292.7 L488.0,294.4 L491.0,296.0 L494.0,297.7 L497.0,299.3 L500.0,301.0 L503.0,302.6 L506.0,304.3 L509.0,305.9 L512.0,307.6 L515.0,309.2 L518.0,310.9 L521.0,312.5 L524.0,314.2 L527.0,315.8 L530.0,317.5 L533.0,319.1 L536.0,320.8 L539.0,322.4 L542.0,324.1 L545.0,325.7 L548.0,327.4 L551.0,329.0 L554.0,330.7"/>
<path d="M425.0,268.8 L428.0,270.5 L431.0,272.1 L434.0,273.8 L437.0,275.4 L440.0,277.1 L443.0,278.7 L446.0,280.4 L449.0,282.0 L452.0,283.7 L455.0,285.3 L458.0,287.0 L461.0,288.6 L464.0,290.3 L467.0,291.9 L470.0,293.6 L473.0,295.2 L476.0,296.9 L479.0,298.5 L482.0,300.2 L485.0,301.8 L488.0,303.5 L491.0,305.1 L494.0,306.8 L497.0,308.4 L500.0,310.1 L503.0,311.7 L506.0,313.4 L509.0,315.0 L512.0,316.7 L515.0,318.3 L518.0,320.0 L521.0,321.6 L524.0,323.3 L527.0,324.9 L530.0,326.6 L533.0,328.2 L536.0,329.9 L539.0,331.5 L542.0,333.2 L545.0,334.8 L548.0,336.5 L551.0,338.1 L554.0,339.8"/>
<path d="M425.0,277.9 L428.0,279.6 L431.0,281.2 L434.0,282.9 L437.0,284.6 L440.0,286.2 L443.0,287.8 L446.0,289.5 L449.0,291.1 L452.0,292.8 L455.0,294.4 L458.0,296.1 L461.0,297.8 L464.0,299.4 L467.0,301.1 L470.0,302.7 L473.0,304.3 L476.0,306.0 L479.0,307.6 L482.0,309.3 L485.0,310.9 L488.0,312.6 L491.0,314.2 L494.0,315.9 L497.0,317.6 L500.0,319.2 L503.0,320.8 L506.0,322.5 L509.0,324.1 L512.0,325.8 L515.0,327.4 L518.0,329.1 L521.0,330.8 L524.0,332.4 L527.0,334.1 L530.0,335.7 L533.0,337.3 L536.0,339.0 L539.0,340.6 L542.0,342.3 L545.0,343.9 L548.0,345.6 L551.0,347.2 L554.0,348.9"/>
<path d="M425.0,287.1 L428.0,288.7 L431.0,290.4 L434.0,292.0 L437.0,293.7 L440.0,295.3 L443.0,296.9 L446.0,298.6 L449.0,300.2 L452.0,301.9 L455.0,303.6 L458.0,305.2 L461.0,306.9 L464.0,308.5 L467.0,310.2 L470.0,311.8 L473.0,313.4 L476.0,315.1 L479.0,316.8 L482.0,318.4 L485.0,320.1 L488.0,321.7 L491.0,323.4 L494.0,325.0 L497.0,326.7 L500.0,328.3 L503.0,329.9 L506.0,331.6 L509.0,333.2 L512.0,334.9 L515.0,336.6 L518.0,338.2 L521.0,339.9 L524.0,341.5 L527.0,343.2 L530.0,344.8 L533.0,346.4 L536.0,348.1 L539.0,349.8 L542.0,351.4 L545.0,353.1 L548.0,354.7 L551.0,356.4 L554.0,358.0"/>
<path d="M425.0,296.2 L428.0,297.8 L431.0,299.4 L434.0,301.0 L437.0,302.7 L440.0,304.3 L443.0,305.9 L446.0,307.6 L449.0,309.2 L452.0,310.8 L455.0,312.5 L458.0,314.1 L461.0,315.7 L464.0,317.4 L467.0,319.0 L470.0,320.6 L473.0,322.2 L476.0,323.9 L479.0,325.5 L482.0,327.1 L485.0,328.8 L488.0,330.4 L491.0,332.0 L494.0,333.7 L497.0,335.3 L500.0,336.9 L503.0,338.6 L506.0,340.2 L509.0,341.8 L512.0,343.5 L515.0,345.1 L518.0,346.7 L521.0,348.3 L524.0,350.0 L527.0,351.6 L530.0,353.2 L533.0,354.9 L536.0,356.5 L539.0,358.1 L542.0,359.8 L545.0,361.4 L548.0,363.0 L551.0,364.7 L554.0,366.3"/>
<path d="M425.0,305.3 L428.0,306.8 L431.0,308.4 L434.0,310.0 L437.0,311.6 L440.0,313.2 L443.0,314.7 L446.0,316.3 L449.0,317.9 L452.0,319.5 L455.0,321.1 L458.0,322.6 L461.0,324.2 L464.0,325.8 L467.0,327.4 L470.0,329.0 L473.0,330.6 L476.0,332.1 L479.0,333.7 L482.0,335.3 L485.0,336.9 L488.0,338.5 L491.0,340.0 L494.0,341.6 L497.0,343.2 L500.0,344.9 L503.0,346.6 L506.0,348.2 L509.0,350.0 L512.0,351.7 L515.0,353.5 L518.0,355.3 L521.0,357.1 L524.0,359.0 L527.0,360.9 L530.0,362.8 L533.0,364.7 L536.0,366.7 L539.0,368.6 L542.0,370.7 L545.0,372.7 L548.0,374.8 L551.0,376.9 L554.0,379.0"/>
<path d="M425.0,314.4 L428.0,315.9 L431.0,317.4 L434.0,318.9 L437.0,320.5 L440.0,322.0 L443.0,323.5 L446.0,325.1 L449.0,326.6 L452.0,328.1 L455.0,329.7 L458.0,331.2 L461.0,332.7 L464.0,334.3 L467.0,335.8 L470.0,337.3 L473.0,338.9 L476.0,340.4 L479.0,341.9 L482.0,343.5 L485.0,345.0 L488.0,346.5 L491.0,348.1 L494.0,349.6 L497.0,351.2 L500.0,352.9 L503.0,354.6 L506.0,356.5 L509.0,358.4 L512.0,360.3 L515.0,362.3 L518.0,364.4 L521.0,366.6 L524.0,368.9 L527.0,371.2 L530.0,373.5 L533.0,376.0 L536.0,378.5 L539.0,381.1 L542.0,383.7 L545.0,386.5 L548.0,389.3 L551.0,392.1 L554.0,395.1"/>
<path d="M425.0,323.5 L428.0,324.9 L431.0,326.4 L434.0,327.9 L437.0,329.4 L440.0,330.9 L443.0,332.3 L446.0,333.8 L449.0,335.3 L452.0,336.8 L455.0,338.3 L458.0,339.8 L461.0,341.2 L464.0,342.7 L467.0,344.2 L470.0,345.7 L473.0,347.2 L476.0,348.6 L479.0,350.1 L482.0,351.6 L485.0,353.1 L488.0,354.6 L491.0,356.1 L494.0,357.6 L497.0,359.2 L500.0,360.9 L503.0,362.7 L506.0,364.7 L509.0,366.8 L512.0,368.9 L515.0,371.2 L518.0,373.6 L521.0,376.1 L524.0,378.7 L527.0,381.5 L530.0,384.3 L533.0,387.3 L536.0,390.3 L539.0,393.5 L542.0,396.8 L545.0,400.2 L548.0,403.7 L551.0,407.4 L554.0,411.1"/>
<path d="M425.0,332.6 L428.0,334.0 L431.0,335.4 L434.0,336.8 L437.0,338.3 L440.0,339.7 L443.0,341.1 L446.0,342.6 L449.0,344.0 L452.0,345.4 L455.0,346.9 L458.0,348.3 L461.0,349.7 L464.0,351.2 L467.0,352.6 L470.0,354.0 L473.0,355.5 L476.0,356.9 L479.0,358.3 L482.0,359.8 L485.0,361.2 L488.0,362.6 L491.0,364.1 L494.0,365.5 L497.0,367.1 L500.0,368.9 L503.0,370.8 L506.0,372.9 L509.0,375.1 L512.0,377.5 L515.0,380.1 L518.0,382.8 L521.0,385.6 L524.0,388.6 L527.0,391.8 L530.0,395.1 L533.0,398.6 L536.0,402.2 L539.0,406.0 L542.0,409.9 L545.0,414.0 L548.0,418.2 L551.0,422.6 L554.0,427.2"/>
<path d="M425.0,341.7 L428.0,343.0 L431.0,344.4 L434.0,345.8 L437.0,347.2 L440.0,348.6 L443.0,349.9 L446.0,351.3 L449.0,352.7 L452.0,354.1 L455.0,355.5 L458.0,356.9 L461.0,358.2 L464.0,359.6 L467.0,361.0 L470.0,362.4 L473.0,363.8 L476.0,365.2 L479.0,366.5 L482.0,367.9 L485.0,369.3 L488.0,370.7 L491.0,372.1 L494.0,373.5 L497.0,375.1 L500.0,376.9 L503.0,378.9 L506.0,381.1 L509.0,383.5 L512.0,386.1 L515.0,388.9 L518.0,391.9 L521.0,395.1 L524.0,398.5 L527.0,402.1 L530.0,405.9 L533.0,409.9 L536.0,414.0 L539.0,418.4 L542.0,423.0 L545.0,427.7 L548.0,432.7 L551.0,437.9 L554.0,443.2"/>
<path d="M425.0,350.8 L428.0,352.1 L431.0,353.5 L434.0,354.8 L437.0,356.2 L440.0,357.5 L443.0,358.9 L446.0,360.2 L449.0,361.6 L452.0,362.9 L455.0,364.3 L458.0,365.6 L461.0,367.0 L464.0,368.3 L467.0,369.7 L470.0,371.0 L473.0,372.4 L476.0,373.7 L479.0,375.1 L482.0,376.4 L485.0,377.8 L488.0,379.1 L491.0,380.5 L494.0,381.9 L497.0,383.5 L500.0,385.4 L503.0,387.5 L506.0,389.8 L509.0,392.4 L512.0,395.2 L515.0,398.3 L518.0,401.6 L521.0,405.2 L524.0,408.9 L527.0,413.0 L530.0,417.2 L533.0,421.7 L536.0,426.5 L539.0,431.5 L542.0,436.7 L545.0,442.2 L548.0,447.9 L551.0,453.8 L554.0,460.0"/>
<path d="M425.0,359.9 L428.0,361.2 L431.0,362.6 L434.0,363.9 L437.0,365.3 L440.0,366.6 L443.0,368.0 L446.0,369.3 L449.0,370.7 L452.0,372.0 L455.0,373.4 L458.0,374.7 L461.0,376.1 L464.0,377.4 L467.0,378.8 L470.0,380.1 L473.0,381.5 L476.0,382.8 L479.0,384.2 L482.0,385.5 L485.0,386.9 L488.0,388.2 L491.0,389.6 L494.0,391.0 L497.0,392.6 L500.0,394.6 L503.0,396.8 L506.0,399.4 L509.0,402.2 L512.0,405.3 L515.0,408.6 L518.0,412.3 L521.0,416.2 L524.0,420.5 L527.0,425.0 L530.0,429.8 L533.0,434.8 L536.0,440.2 L539.0,445.8 L542.0,451.7 L545.0,457.9 L548.0,464.4 L551.0,471.2 L554.0,478.2"/>
</g>
</g>
<path d="M550.6,335.2 Q553.5,338.6 550.0,344.0 M550.0,344.0 Q552.5,347.2 548.6,352.3 M548.6,352.3 Q551.4,355.7 547.8,361.0 M547.8,360.2 Q550.4,363.4 546.6,368.7 M546.4,371.0 Q548.9,374.0 545.0,379.1 M544.4,383.2 Q546.9,386.1 543.0,391.0 M542.2,394.3 Q544.5,396.9 540.4,401.5 M539.8,404.3 Q542.0,406.6 537.8,410.8 M537.2,413.1 Q539.4,415.2 535.2,419.3 M534.6,421.5 Q536.7,423.4 532.4,427.2" stroke="#2a2a2a" stroke-width="0.9" fill="none"/>
<g clip-path="url(#cl)">
<g stroke="#e3e3e3" stroke-width="5" fill="none">
<path d="M405.0,377.7 L407.0,378.5 L409.0,379.3 L411.0,380.1 L413.0,380.9 L415.0,381.7 L417.0,382.5 L419.0,383.3 L421.0,384.1 L423.0,384.9 L425.0,385.7 L427.0,386.5 L429.0,387.3 L431.0,388.1 L433.0,388.9 L435.0,389.7 L437.0,390.5 L439.0,391.3 L441.0,392.1 L443.0,392.9 L445.0,393.7 L447.0,394.5 L449.0,395.3 L451.0,396.1 L453.0,396.9 L455.0,397.7 L457.0,398.5 L459.0,399.3 L461.0,400.1 L463.0,400.9 L465.0,401.7 L467.0,402.5 L469.0,403.3 L471.0,404.1"/>
<path d="M405.0,386.2 L407.0,387.0 L409.0,387.8 L411.0,388.6 L413.0,389.4 L415.0,390.2 L417.0,391.0 L419.0,391.8 L421.0,392.6 L423.0,393.4 L425.0,394.2 L427.0,395.0 L429.0,395.8 L431.0,396.6 L433.0,397.4 L435.0,398.2 L437.0,399.0 L439.0,399.8 L441.0,400.6 L443.0,401.4 L445.0,402.2 L447.0,403.0 L449.0,403.8 L451.0,404.6 L453.0,405.4 L455.0,406.2 L457.0,407.0 L459.0,407.8 L461.0,408.6 L463.0,409.4 L465.0,410.2 L467.0,411.0 L469.0,411.8 L471.0,412.6"/>
<path d="M405.0,394.7 L407.0,395.5 L409.0,396.3 L411.0,397.1 L413.0,397.9 L415.0,398.7 L417.0,399.5 L419.0,400.3 L421.0,401.1 L423.0,401.9 L425.0,402.7 L427.0,403.5 L429.0,404.3 L431.0,405.1 L433.0,405.9 L435.0,406.7 L437.0,407.5 L439.0,408.3 L441.0,409.1 L443.0,409.9 L445.0,410.7 L447.0,411.5 L449.0,412.3 L451.0,413.1 L453.0,413.9 L455.0,414.7 L457.0,415.5 L459.0,416.3 L461.0,417.1 L463.0,417.9 L465.0,418.7 L467.0,419.5 L469.0,420.3 L471.0,421.1"/>
<path d="M405.0,403.2 L407.0,404.0 L409.0,404.8 L411.0,405.6 L413.0,406.4 L415.0,407.2 L417.0,408.0 L419.0,408.8 L421.0,409.6 L423.0,410.4 L425.0,411.2 L427.0,412.0 L429.0,412.8 L431.0,413.6 L433.0,414.4 L435.0,415.2 L437.0,416.0 L439.0,416.8 L441.0,417.6 L443.0,418.4 L445.0,419.2 L447.0,420.0 L449.0,420.8 L451.0,421.6 L453.0,422.4 L455.0,423.2 L457.0,424.0 L459.0,424.8 L461.0,425.6 L463.0,426.4 L465.0,427.2 L467.0,428.0 L469.0,428.8 L471.0,429.6"/>
<path d="M405.0,411.7 L407.0,412.5 L409.0,413.3 L411.0,414.1 L413.0,414.9 L415.0,415.7 L417.0,416.5 L419.0,417.3 L421.0,418.1 L423.0,418.9 L425.0,419.7 L427.0,420.5 L429.0,421.3 L431.0,422.1 L433.0,422.9 L435.0,423.7 L437.0,424.5 L439.0,425.3 L441.0,426.1 L443.0,426.9 L445.0,427.7 L447.0,428.5 L449.0,429.3 L451.0,430.1 L453.0,430.9 L455.0,431.7 L457.0,432.5 L459.0,433.3 L461.0,434.1 L463.0,434.9 L465.0,435.7 L467.0,436.5 L469.0,437.3 L471.0,438.1"/>
<path d="M405.0,420.2 L407.0,421.0 L409.0,421.8 L411.0,422.6 L413.0,423.4 L415.0,424.2 L417.0,425.0 L419.0,425.8 L421.0,426.6 L423.0,427.4 L425.0,428.2 L427.0,429.0 L429.0,429.8 L431.0,430.6 L433.0,431.4 L435.0,432.2 L437.0,433.0 L439.0,433.8 L441.0,434.6 L443.0,435.4 L445.0,436.2 L447.0,437.0 L449.0,437.8 L451.0,438.6 L453.0,439.4 L455.0,440.2 L457.0,441.0 L459.0,441.8 L461.0,442.6 L463.0,443.4 L465.0,444.2 L467.0,445.0 L469.0,445.8 L471.0,446.6"/>
<path d="M405.0,428.7 L407.0,429.5 L409.0,430.3 L411.0,431.1 L413.0,431.9 L415.0,432.7 L417.0,433.5 L419.0,434.3 L421.0,435.1 L423.0,435.9 L425.0,436.7 L427.0,437.5 L429.0,438.3 L431.0,439.1 L433.0,439.9 L435.0,440.7 L437.0,441.5 L439.0,442.3 L441.0,443.1 L443.0,443.9 L445.0,444.7 L447.0,445.5 L449.0,446.3 L451.0,447.1 L453.0,447.9 L455.0,448.7 L457.0,449.5 L459.0,450.3 L461.0,451.1 L463.0,451.9 L465.0,452.7 L467.0,453.5 L469.0,454.3 L471.0,455.1"/>
<path d="M405.0,436.9 L407.0,437.8 L409.0,438.6 L411.0,439.5 L413.0,440.5 L415.0,441.4 L417.0,442.3 L419.0,443.2 L421.0,444.1 L423.0,445.1 L425.0,446.0 L427.0,446.9 L429.0,447.9 L431.0,448.8 L433.0,449.8 L435.0,450.8 L437.0,451.7 L439.0,452.7 L441.0,453.7 L443.0,454.7 L445.0,455.7 L447.0,456.7 L449.0,457.7 L451.0,458.7 L453.0,459.7 L455.0,460.7 L457.0,461.7 L459.0,462.7 L461.0,463.8 L463.0,464.8 L465.0,465.9 L467.0,466.9 L469.0,468.0 L471.0,469.0"/>
<path d="M405.0,444.7 L407.0,445.8 L409.0,446.9 L411.0,447.9 L413.0,449.1 L415.0,450.2 L417.0,451.3 L419.0,452.5 L421.0,453.6 L423.0,454.8 L425.0,456.0 L427.0,457.3 L429.0,458.5 L431.0,459.7 L433.0,461.0 L435.0,462.3 L437.0,463.6 L439.0,464.9 L441.0,466.2 L443.0,467.6 L445.0,468.9 L447.0,470.3 L449.0,471.7 L451.0,473.1 L453.0,474.5 L455.0,475.9 L457.0,477.4 L459.0,478.9 L461.0,480.3 L463.0,481.8 L465.0,483.3 L467.0,484.9 L469.0,486.4 L471.0,488.0"/>
<path d="M405.0,452.6 L407.0,453.8 L409.0,455.1 L411.0,456.3 L413.0,457.7 L415.0,459.0 L417.0,460.4 L419.0,461.8 L421.0,463.2 L423.0,464.6 L425.0,466.1 L427.0,467.6 L429.0,469.1 L431.0,470.6 L433.0,472.2 L435.0,473.8 L437.0,475.4 L439.0,477.1 L441.0,478.7 L443.0,480.4 L445.0,482.2 L447.0,483.9 L449.0,485.7 L451.0,487.5 L453.0,489.3 L455.0,491.2 L457.0,493.1 L459.0,495.0 L461.0,496.9 L463.0,498.8 L465.0,500.8 L467.0,502.8 L469.0,504.9 L471.0,506.9"/>
<path d="M405.0,460.4 L407.0,461.8 L409.0,463.3 L411.0,464.7 L413.0,466.3 L415.0,467.8 L417.0,469.4 L419.0,471.0 L421.0,472.7 L423.0,474.4 L425.0,476.1 L427.0,477.9 L429.0,479.7 L431.0,481.5 L433.0,483.4 L435.0,485.3 L437.0,487.3 L439.0,489.3 L441.0,491.3 L443.0,493.3 L445.0,495.4 L447.0,497.6 L449.0,499.7 L451.0,501.9 L453.0,504.2 L455.0,506.4 L457.0,508.7 L459.0,511.1 L461.0,513.4 L463.0,515.9 L465.0,518.3 L467.0,520.8 L469.0,523.3 L471.0,525.9"/>
<path d="M405.0,468.3 L407.0,469.8 L409.0,471.5 L411.0,473.1 L413.0,474.9 L415.0,476.6 L417.0,478.4 L419.0,480.3 L421.0,482.2 L423.0,484.2 L425.0,486.2 L427.0,488.2 L429.0,490.3 L431.0,492.4 L433.0,494.6 L435.0,496.8 L437.0,499.1 L439.0,501.4 L441.0,503.8 L443.0,506.2 L445.0,508.7 L447.0,511.2 L449.0,513.7 L451.0,516.3 L453.0,519.0 L455.0,521.7 L457.0,524.4 L459.0,527.2 L461.0,530.0 L463.0,532.9 L465.0,535.8 L467.0,538.8 L469.0,541.8 L471.0,544.8"/>
</g>
<path d="M456.8,395.8 L455.6,401.0 M457.5,396.1 L456.3,401.3 M444.8,391.0 L443.6,396.2 M454.4,403.4 L453.2,408.6 M457.5,404.6 L456.3,409.8 M442.4,398.6 L441.2,403.8 M452.0,410.9 L450.8,416.1 M457.5,413.1 L456.3,418.3 M440.0,406.1 L438.8,411.3 M449.6,418.5 L448.4,423.7 M457.5,421.6 L456.3,426.8 M437.6,413.7 L436.4,418.9 M447.3,426.0 L446.1,431.2 M457.5,430.1 L456.3,435.3 M435.3,421.2 L434.1,426.4 M444.9,433.6 L443.7,438.8 M457.5,438.6 L456.3,443.8 M432.9,428.8 L431.7,434.0 M442.5,441.1 L441.3,446.3 M457.5,447.1 L456.3,452.3 M430.5,436.3 L429.3,441.5 M440.1,450.7 L438.9,455.9 M457.5,459.4 L456.3,464.6 M428.1,444.9 L426.9,450.1 M437.7,461.5 L436.5,466.7 M457.5,475.1 L456.3,480.3 M425.7,453.9 L424.5,459.1 M435.4,471.5 L434.2,476.7 M457.5,490.9 L456.3,496.1 M423.4,462.3 L422.2,467.5 M433.0,480.8 L431.8,486.0 M457.5,506.7 L456.3,511.9 M421.0,470.1 L419.8,475.3 M430.6,489.4 L429.4,494.6 M457.5,522.5 L456.3,527.7 M418.6,477.3 L417.4,482.5" stroke="#5a5a5a" stroke-width="1.8" fill="none"/>
<g stroke="#1e1e1e" stroke-width="1" fill="none">
<path d="M405.0,372.1 L407.0,372.9 L409.0,373.7 L411.0,374.5 L413.0,375.3 L415.0,376.1 L417.0,376.9 L419.0,377.7 L421.0,378.5 L423.0,379.3 L425.0,380.1 L427.0,380.9 L429.0,381.7 L431.0,382.5 L433.0,383.3 L435.0,384.1 L437.0,384.9 L439.0,385.7 L441.0,386.5 L443.0,387.3 L445.0,388.1 L447.0,388.9 L449.0,389.7 L451.0,390.5 L453.0,391.3 L455.0,392.1 L457.0,392.9 L459.0,393.7 L461.0,394.5 L463.0,395.3 L465.0,396.1 L467.0,396.9 L469.0,397.7 L471.0,398.5"/>
<path d="M405.0,380.6 L407.0,381.4 L409.0,382.2 L411.0,383.0 L413.0,383.8 L415.0,384.6 L417.0,385.4 L419.0,386.2 L421.0,387.0 L423.0,387.8 L425.0,388.6 L427.0,389.4 L429.0,390.2 L431.0,391.0 L433.0,391.8 L435.0,392.6 L437.0,393.4 L439.0,394.2 L441.0,395.0 L443.0,395.8 L445.0,396.6 L447.0,397.4 L449.0,398.2 L451.0,399.0 L453.0,399.8 L455.0,400.6 L457.0,401.4 L459.0,402.2 L461.0,403.0 L463.0,403.8 L465.0,404.6 L467.0,405.4 L469.0,406.2 L471.0,407.0"/>
<path d="M405.0,389.1 L407.0,389.9 L409.0,390.7 L411.0,391.5 L413.0,392.3 L415.0,393.1 L417.0,393.9 L419.0,394.7 L421.0,395.5 L423.0,396.3 L425.0,397.1 L427.0,397.9 L429.0,398.7 L431.0,399.5 L433.0,400.3 L435.0,401.1 L437.0,401.9 L439.0,402.7 L441.0,403.5 L443.0,404.3 L445.0,405.1 L447.0,405.9 L449.0,406.7 L451.0,407.5 L453.0,408.3 L455.0,409.1 L457.0,409.9 L459.0,410.7 L461.0,411.5 L463.0,412.3 L465.0,413.1 L467.0,413.9 L469.0,414.7 L471.0,415.5"/>
<path d="M405.0,397.6 L407.0,398.4 L409.0,399.2 L411.0,400.0 L413.0,400.8 L415.0,401.6 L417.0,402.4 L419.0,403.2 L421.0,404.0 L423.0,404.8 L425.0,405.6 L427.0,406.4 L429.0,407.2 L431.0,408.0 L433.0,408.8 L435.0,409.6 L437.0,410.4 L439.0,411.2 L441.0,412.0 L443.0,412.8 L445.0,413.6 L447.0,414.4 L449.0,415.2 L451.0,416.0 L453.0,416.8 L455.0,417.6 L457.0,418.4 L459.0,419.2 L461.0,420.0 L463.0,420.8 L465.0,421.6 L467.0,422.4 L469.0,423.2 L471.0,424.0"/>
<path d="M405.0,406.1 L407.0,406.9 L409.0,407.7 L411.0,408.5 L413.0,409.3 L415.0,410.1 L417.0,410.9 L419.0,411.7 L421.0,412.5 L423.0,413.3 L425.0,414.1 L427.0,414.9 L429.0,415.7 L431.0,416.5 L433.0,417.3 L435.0,418.1 L437.0,418.9 L439.0,419.7 L441.0,420.5 L443.0,421.3 L445.0,422.1 L447.0,422.9 L449.0,423.7 L451.0,424.5 L453.0,425.3 L455.0,426.1 L457.0,426.9 L459.0,427.7 L461.0,428.5 L463.0,429.3 L465.0,430.1 L467.0,430.9 L469.0,431.7 L471.0,432.5"/>
<path d="M405.0,414.6 L407.0,415.4 L409.0,416.2 L411.0,417.0 L413.0,417.8 L415.0,418.6 L417.0,419.4 L419.0,420.2 L421.0,421.0 L423.0,421.8 L425.0,422.6 L427.0,423.4 L429.0,424.2 L431.0,425.0 L433.0,425.8 L435.0,426.6 L437.0,427.4 L439.0,428.2 L441.0,429.0 L443.0,429.8 L445.0,430.6 L447.0,431.4 L449.0,432.2 L451.0,433.0 L453.0,433.8 L455.0,434.6 L457.0,435.4 L459.0,436.2 L461.0,437.0 L463.0,437.8 L465.0,438.6 L467.0,439.4 L469.0,440.2 L471.0,441.0"/>
<path d="M405.0,423.1 L407.0,423.9 L409.0,424.7 L411.0,425.5 L413.0,426.3 L415.0,427.1 L417.0,427.9 L419.0,428.7 L421.0,429.5 L423.0,430.3 L425.0,431.1 L427.0,431.9 L429.0,432.7 L431.0,433.5 L433.0,434.3 L435.0,435.1 L437.0,435.9 L439.0,436.7 L441.0,437.5 L443.0,438.3 L445.0,439.1 L447.0,439.9 L449.0,440.7 L451.0,441.5 L453.0,442.3 L455.0,443.1 L457.0,443.9 L459.0,444.7 L461.0,445.5 L463.0,446.3 L465.0,447.1 L467.0,447.9 L469.0,448.7 L471.0,449.5"/>
<path d="M405.0,431.3 L407.0,432.2 L409.0,433.0 L411.0,433.9 L413.0,434.9 L415.0,435.8 L417.0,436.7 L419.0,437.6 L421.0,438.5 L423.0,439.5 L425.0,440.4 L427.0,441.3 L429.0,442.3 L431.0,443.2 L433.0,444.2 L435.0,445.2 L437.0,446.1 L439.0,447.1 L441.0,448.1 L443.0,449.1 L445.0,450.1 L447.0,451.1 L449.0,452.1 L451.0,453.1 L453.0,454.1 L455.0,455.1 L457.0,456.1 L459.0,457.1 L461.0,458.2 L463.0,459.2 L465.0,460.3 L467.0,461.3 L469.0,462.4 L471.0,463.4"/>
<path d="M405.0,439.1 L407.0,440.2 L409.0,441.3 L411.0,442.3 L413.0,443.5 L415.0,444.6 L417.0,445.7 L419.0,446.9 L421.0,448.0 L423.0,449.2 L425.0,450.4 L427.0,451.7 L429.0,452.9 L431.0,454.1 L433.0,455.4 L435.0,456.7 L437.0,458.0 L439.0,459.3 L441.0,460.6 L443.0,462.0 L445.0,463.3 L447.0,464.7 L449.0,466.1 L451.0,467.5 L453.0,468.9 L455.0,470.3 L457.0,471.8 L459.0,473.3 L461.0,474.7 L463.0,476.2 L465.0,477.7 L467.0,479.3 L469.0,480.8 L471.0,482.4"/>
<path d="M405.0,447.0 L407.0,448.2 L409.0,449.5 L411.0,450.7 L413.0,452.1 L415.0,453.4 L417.0,454.8 L419.0,456.2 L421.0,457.6 L423.0,459.0 L425.0,460.5 L427.0,462.0 L429.0,463.5 L431.0,465.0 L433.0,466.6 L435.0,468.2 L437.0,469.8 L439.0,471.5 L441.0,473.1 L443.0,474.8 L445.0,476.6 L447.0,478.3 L449.0,480.1 L451.0,481.9 L453.0,483.7 L455.0,485.6 L457.0,487.5 L459.0,489.4 L461.0,491.3 L463.0,493.2 L465.0,495.2 L467.0,497.2 L469.0,499.3 L471.0,501.3"/>
<path d="M405.0,454.8 L407.0,456.2 L409.0,457.7 L411.0,459.1 L413.0,460.7 L415.0,462.2 L417.0,463.8 L419.0,465.4 L421.0,467.1 L423.0,468.8 L425.0,470.5 L427.0,472.3 L429.0,474.1 L431.0,475.9 L433.0,477.8 L435.0,479.7 L437.0,481.7 L439.0,483.7 L441.0,485.7 L443.0,487.7 L445.0,489.8 L447.0,492.0 L449.0,494.1 L451.0,496.3 L453.0,498.6 L455.0,500.8 L457.0,503.1 L459.0,505.5 L461.0,507.8 L463.0,510.3 L465.0,512.7 L467.0,515.2 L469.0,517.7 L471.0,520.3"/>
<path d="M405.0,462.7 L407.0,464.2 L409.0,465.9 L411.0,467.5 L413.0,469.3 L415.0,471.0 L417.0,472.8 L419.0,474.7 L421.0,476.6 L423.0,478.6 L425.0,480.6 L427.0,482.6 L429.0,484.7 L431.0,486.8 L433.0,489.0 L435.0,491.2 L437.0,493.5 L439.0,495.8 L441.0,498.2 L443.0,500.6 L445.0,503.1 L447.0,505.6 L449.0,508.1 L451.0,510.7 L453.0,513.4 L455.0,516.1 L457.0,518.8 L459.0,521.6 L461.0,524.4 L463.0,527.3 L465.0,530.2 L467.0,533.2 L469.0,536.2 L471.0,539.2"/>
</g>
<g stroke="#3a3a3a" stroke-width="0.7" fill="none">
<path d="M405.0,374.8 L407.0,375.6 L409.0,376.4 L411.0,377.2 L413.0,378.0 L415.0,378.8 L417.0,379.6 L419.0,380.4 L421.0,381.2 L423.0,382.0 L425.0,382.8 L427.0,383.6 L429.0,384.4 L431.0,385.2 L433.0,386.0 L435.0,386.8 L437.0,387.6 L439.0,388.4 L441.0,389.2 L443.0,390.0 L445.0,390.8 L447.0,391.6 L449.0,392.4 L451.0,393.2 L453.0,394.0 L455.0,394.8 L457.0,395.6 L459.0,396.4 L461.0,397.2 L463.0,398.0 L465.0,398.8 L467.0,399.6 L469.0,400.4 L471.0,401.2"/>
<path d="M405.0,383.3 L407.0,384.1 L409.0,384.9 L411.0,385.7 L413.0,386.5 L415.0,387.3 L417.0,388.1 L419.0,388.9 L421.0,389.7 L423.0,390.5 L425.0,391.3 L427.0,392.1 L429.0,392.9 L431.0,393.7 L433.0,394.5 L435.0,395.3 L437.0,396.1 L439.0,396.9 L441.0,397.7 L443.0,398.5 L445.0,399.3 L447.0,400.1 L449.0,400.9 L451.0,401.7 L453.0,402.5 L455.0,403.3 L457.0,404.1 L459.0,404.9 L461.0,405.7 L463.0,406.5 L465.0,407.3 L467.0,408.1 L469.0,408.9 L471.0,409.7"/>
<path d="M405.0,391.8 L407.0,392.6 L409.0,393.4 L411.0,394.2 L413.0,395.0 L415.0,395.8 L417.0,396.6 L419.0,397.4 L421.0,398.2 L423.0,399.0 L425.0,399.8 L427.0,400.6 L429.0,401.4 L431.0,402.2 L433.0,403.0 L435.0,403.8 L437.0,404.6 L439.0,405.4 L441.0,406.2 L443.0,407.0 L445.0,407.8 L447.0,408.6 L449.0,409.4 L451.0,410.2 L453.0,411.0 L455.0,411.8 L457.0,412.6 L459.0,413.4 L461.0,414.2 L463.0,415.0 L465.0,415.8 L467.0,416.6 L469.0,417.4 L471.0,418.2"/>
<path d="M405.0,400.3 L407.0,401.1 L409.0,401.9 L411.0,402.7 L413.0,403.5 L415.0,404.3 L417.0,405.1 L419.0,405.9 L421.0,406.7 L423.0,407.5 L425.0,408.3 L427.0,409.1 L429.0,409.9 L431.0,410.7 L433.0,411.5 L435.0,412.3 L437.0,413.1 L439.0,413.9 L441.0,414.7 L443.0,415.5 L445.0,416.3 L447.0,417.1 L449.0,417.9 L451.0,418.7 L453.0,419.5 L455.0,420.3 L457.0,421.1 L459.0,421.9 L461.0,422.7 L463.0,423.5 L465.0,424.3 L467.0,425.1 L469.0,425.9 L471.0,426.7"/>
<path d="M405.0,408.8 L407.0,409.6 L409.0,410.4 L411.0,411.2 L413.0,412.0 L415.0,412.8 L417.0,413.6 L419.0,414.4 L421.0,415.2 L423.0,416.0 L425.0,416.8 L427.0,417.6 L429.0,418.4 L431.0,419.2 L433.0,420.0 L435.0,420.8 L437.0,421.6 L439.0,422.4 L441.0,423.2 L443.0,424.0 L445.0,424.8 L447.0,425.6 L449.0,426.4 L451.0,427.2 L453.0,428.0 L455.0,428.8 L457.0,429.6 L459.0,430.4 L461.0,431.2 L463.0,432.0 L465.0,432.8 L467.0,433.6 L469.0,434.4 L471.0,435.2"/>
<path d="M405.0,417.3 L407.0,418.1 L409.0,418.9 L411.0,419.7 L413.0,420.5 L415.0,421.3 L417.0,422.1 L419.0,422.9 L421.0,423.7 L423.0,424.5 L425.0,425.3 L427.0,426.1 L429.0,426.9 L431.0,427.7 L433.0,428.5 L435.0,429.3 L437.0,430.1 L439.0,430.9 L441.0,431.7 L443.0,432.5 L445.0,433.3 L447.0,434.1 L449.0,434.9 L451.0,435.7 L453.0,436.5 L455.0,437.3 L457.0,438.1 L459.0,438.9 L461.0,439.7 L463.0,440.5 L465.0,441.3 L467.0,442.1 L469.0,442.9 L471.0,443.7"/>
<path d="M405.0,425.8 L407.0,426.6 L409.0,427.4 L411.0,428.2 L413.0,429.0 L415.0,429.8 L417.0,430.6 L419.0,431.4 L421.0,432.2 L423.0,433.0 L425.0,433.8 L427.0,434.6 L429.0,435.4 L431.0,436.2 L433.0,437.0 L435.0,437.8 L437.0,438.6 L439.0,439.4 L441.0,440.2 L443.0,441.0 L445.0,441.8 L447.0,442.6 L449.0,443.4 L451.0,444.2 L453.0,445.0 L455.0,445.8 L457.0,446.6 L459.0,447.4 L461.0,448.2 L463.0,449.0 L465.0,449.8 L467.0,450.6 L469.0,451.4 L471.0,452.2"/>
<path d="M405.0,434.0 L407.0,434.9 L409.0,435.7 L411.0,436.6 L413.0,437.6 L415.0,438.5 L417.0,439.4 L419.0,440.3 L421.0,441.2 L423.0,442.2 L425.0,443.1 L427.0,444.0 L429.0,445.0 L431.0,445.9 L433.0,446.9 L435.0,447.9 L437.0,448.8 L439.0,449.8 L441.0,450.8 L443.0,451.8 L445.0,452.8 L447.0,453.8 L449.0,454.8 L451.0,455.8 L453.0,456.8 L455.0,457.8 L457.0,458.8 L459.0,459.8 L461.0,460.9 L463.0,461.9 L465.0,463.0 L467.0,464.0 L469.0,465.1 L471.0,466.1"/>
<path d="M405.0,441.8 L407.0,442.9 L409.0,444.0 L411.0,445.0 L413.0,446.2 L415.0,447.3 L417.0,448.4 L419.0,449.6 L421.0,450.7 L423.0,451.9 L425.0,453.1 L427.0,454.4 L429.0,455.6 L431.0,456.8 L433.0,458.1 L435.0,459.4 L437.0,460.7 L439.0,462.0 L441.0,463.3 L443.0,464.7 L445.0,466.0 L447.0,467.4 L449.0,468.8 L451.0,470.2 L453.0,471.6 L455.0,473.0 L457.0,474.5 L459.0,476.0 L461.0,477.4 L463.0,478.9 L465.0,480.4 L467.0,482.0 L469.0,483.5 L471.0,485.1"/>
<path d="M405.0,449.7 L407.0,450.9 L409.0,452.2 L411.0,453.4 L413.0,454.8 L415.0,456.1 L417.0,457.5 L419.0,458.9 L421.0,460.3 L423.0,461.7 L425.0,463.2 L427.0,464.7 L429.0,466.2 L431.0,467.7 L433.0,469.3 L435.0,470.9 L437.0,472.5 L439.0,474.2 L441.0,475.8 L443.0,477.5 L445.0,479.3 L447.0,481.0 L449.0,482.8 L451.0,484.6 L453.0,486.4 L455.0,488.3 L457.0,490.2 L459.0,492.1 L461.0,494.0 L463.0,495.9 L465.0,497.9 L467.0,499.9 L469.0,502.0 L471.0,504.0"/>
<path d="M405.0,457.5 L407.0,458.9 L409.0,460.4 L411.0,461.8 L413.0,463.4 L415.0,464.9 L417.0,466.5 L419.0,468.1 L421.0,469.8 L423.0,471.5 L425.0,473.2 L427.0,475.0 L429.0,476.8 L431.0,478.6 L433.0,480.5 L435.0,482.4 L437.0,484.4 L439.0,486.4 L441.0,488.4 L443.0,490.4 L445.0,492.5 L447.0,494.7 L449.0,496.8 L451.0,499.0 L453.0,501.3 L455.0,503.5 L457.0,505.8 L459.0,508.2 L461.0,510.5 L463.0,513.0 L465.0,515.4 L467.0,517.9 L469.0,520.4 L471.0,523.0"/>
<path d="M405.0,465.4 L407.0,466.9 L409.0,468.6 L411.0,470.2 L413.0,472.0 L415.0,473.7 L417.0,475.5 L419.0,477.4 L421.0,479.3 L423.0,481.3 L425.0,483.3 L427.0,485.3 L429.0,487.4 L431.0,489.5 L433.0,491.7 L435.0,493.9 L437.0,496.2 L439.0,498.5 L441.0,500.9 L443.0,503.3 L445.0,505.8 L447.0,508.3 L449.0,510.8 L451.0,513.4 L453.0,516.1 L455.0,518.8 L457.0,521.5 L459.0,524.3 L461.0,527.1 L463.0,530.0 L465.0,532.9 L467.0,535.9 L469.0,538.9 L471.0,541.9"/>
</g>
</g>

<g class="p">
<!-- outer outline -->
<path d="M436,300.5 L493.3,264.8 L491,258.6 Q492,256.3 494.5,256 Q497,255.5 499.5,256.5 Q507,259 513.6,262.5 Q517.5,264.5 520,267.2 Q524,271 526.8,275 L529.9,281.2 L534.6,282 L539.3,283.5 L540.1,287.4 L541.5,322.5"/>
<path d="M493.3,264.8 L502.7,267.2 M494.3,257.5 Q495.5,260 497,262 Q499.5,265 502.7,267.2" class="t"/>
<path d="M548,348 L548,360 L546,375 L544.5,386 L542,402 L539.3,420 L536.5,431 L532.1,443.7 L523,457.4 L509.3,470 L486.4,484.9 L463.6,496.3 L440.7,505.4 L417.9,514.6 L409,521 L402.5,520 L402.5,509.5"/>
<path d="M373,522 L413,505 L440.7,497.4 L475,482.6 L502.4,466.6 L518.4,455.1 L527.6,441.4 L531,435"/>
<path d="M373,522 L365.5,519 L365.5,479 L369.3,471.4 L369.3,451.4 L365.5,446.7 L365.7,377.7 L376,373.1 L390.9,377.7 L393.1,380 L397.7,381.1 L403.4,382.3"/>
<path d="M436,300.5 Q425,316 418,330 Q411,343 406.9,354.9" style="stroke-width:1.25;stroke:#1a1a1a"/>
<path d="M440.8,304 Q428,320 416.4,340 Q412.5,348 410.3,357" class="t"/>
<path d="M441.1,303.8 L502.7,267.2 M435.6,300.7 L441.1,303.8"/>
<!-- grille left boundary -->
<path d="M441.1,303.8 Q452,340 458.9,375 Q462,400 466,430 Q470,450 476,462 M444.5,304.5 Q455,340 461.5,374"/>
<!-- right face line from apex -->
<path d="M502.7,267.2 Q507,274 511.2,282.8 Q516,294 519,301.5 Q522,306 525.2,309.3 Q530,314.5 534.5,319.8"/>
<path d="M529.9,281.2 L531.5,295 L533.8,317.1"/>
<!-- tab right -->
<path d="M534.5,319.8 Q537,321 539.7,322.9 L546,328.1 Q549.5,331 550.1,333.3 Q551.5,337 549.1,343.7 L544.9,354.1 Q540,352 537,349 Q534.5,345 534,338 L533.5,320 Z" fill="#fff"/>
<!-- left strip -->
<path d="M373.1,521 L376,481 L378.8,475.2 L381.7,463.8 L378.8,454.3 L376,439 L375.5,377.3 M368.3,448.6 L369.3,451.4 M376,481 L365.5,479"/>
<path d="M370.5,379 L371,455 M371,472 L371.5,519" class="t"/>
<path d="M366.9,378.9 L384.6,384 L381.7,397 M371.4,382.9 L375,396" class="t"/>
<!-- big curved shroud line -->
<path d="M403.40,382.30 C402.97,384.92 401.43,391.72 400.80,398.00 C400.17,404.28 399.65,412.17 399.60,420.00 C399.55,427.83 399.85,438.33 400.50,445.00 C401.15,451.67 402.17,455.25 403.50,460.00 C404.83,464.75 406.10,469.35 408.50,473.50 C410.90,477.65 413.67,481.48 417.90,484.90 C422.13,488.32 428.20,493.05 433.90,494.00 C439.60,494.95 446.02,492.88 452.10,490.60 C458.18,488.32 464.68,483.35 470.40,480.30 C476.12,477.25 481.07,475.17 486.40,472.30 C491.73,469.43 497.45,466.33 502.40,463.10 C507.35,459.87 512.00,456.25 516.10,452.90 C520.20,449.55 525.18,444.65 527.00,443.00" class="t"/>
<!-- bottom notch -->
<path d="M408,520 Q410,514 413.5,509.5 Q415.5,507.5 415.5,510.5 Q414.5,514 412,517 M412.5,519 Q416,512 420,507.5 Q422.5,506 422,509.5 Q420,514 416.5,517.5 M418,515.5 Q422,511 426.5,506" class="t"/>
<!-- panel -->
<path d="M463.7,375.8 Q466,395 468,413.9 Q475,428 489.7,434.7 Q500,443 508.7,452 L531.3,436.5 M463.7,375.8 Q490,390 505,402 Q520,416 531.3,431.3" class="t"/>
<path d="M510.5,455 L531.3,440" class="t"/>
<circle cx="468.9" cy="392.3" r="1.7" class="t"/>
<circle cx="521.7" cy="440" r="1.2" class="t"/>
<!-- bushing boss -->
<path d="M406.9,354.9 L410.3,357.1 L413.7,353.7 Q419.4,354 424,362.9 Q426,369.7 424.5,376 Q422.5,383 419.4,385.7 Q416,389 413.7,389.1 L408,390.3 Q401,388 397.7,381.1"/>
<ellipse cx="413.7" cy="375.4" rx="9" ry="13.8" transform="rotate(18 413.7 375.4)" fill="#fff"/>
<ellipse cx="414.9" cy="375.4" rx="5" ry="8.3" transform="rotate(18 414.9 375.4)"/>
<ellipse cx="415.3" cy="375.6" rx="3.2" ry="6" transform="rotate(18 415.3 375.6)" class="t"/>
<path d="M410.3,373.1 L427.4,382.3" class="t"/>
<path d="M390.9,382.3 Q394,387 400,390.3 L408,390.9" class="t"/>
<!-- bracket right -->
<path d="M531.3,287 L539.6,284.5" class="t"/>
</g>

<!-- PARTS5 -->
</svg>
</body></html>
